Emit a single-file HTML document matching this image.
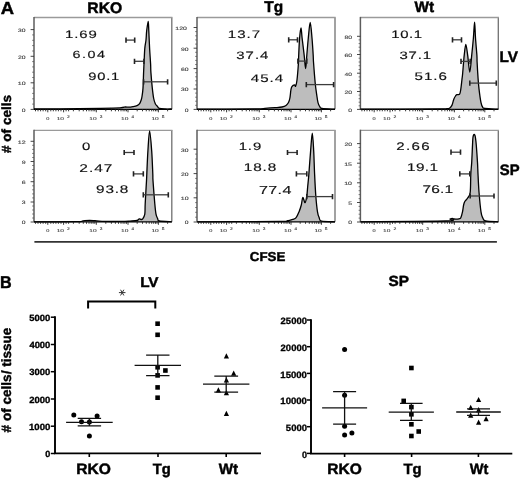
<!DOCTYPE html>
<html><head><meta charset="utf-8"><style>
html,body{margin:0;padding:0;background:#fff;}
body{width:520px;height:479px;overflow:hidden;}
svg{display:block;font-family:"Liberation Sans",sans-serif;filter:grayscale(1);text-rendering:geometricPrecision;}
</style></head><body>
<svg width="520" height="479" viewBox="0 0 520 479">
<rect width="520" height="479" fill="#fff"/>
<path d="M171.8 109.3 V17.5" fill="none" stroke="#707070" stroke-width="1.3"/>
<path d="M34.0 17.5 H172.45000000000002" fill="none" stroke="#9a9a9a" stroke-width="1.3"/>
<line x1="34.0" y1="16.9" x2="34.0" y2="109.3" stroke="#5c5c5c" stroke-width="1.5"/>
<path d="M171.8 221.8 V130.3" fill="none" stroke="#707070" stroke-width="1.3"/>
<path d="M34.0 130.3 H172.45000000000002" fill="none" stroke="#9a9a9a" stroke-width="1.3"/>
<line x1="34.0" y1="129.70000000000002" x2="34.0" y2="221.8" stroke="#5c5c5c" stroke-width="1.5"/>
<path d="M335.0 109.3 V17.5" fill="none" stroke="#707070" stroke-width="1.3"/>
<path d="M197.0 17.5 H335.65" fill="none" stroke="#9a9a9a" stroke-width="1.3"/>
<line x1="197.0" y1="16.9" x2="197.0" y2="109.3" stroke="#5c5c5c" stroke-width="1.5"/>
<path d="M335.0 221.8 V130.3" fill="none" stroke="#707070" stroke-width="1.3"/>
<path d="M197.0 130.3 H335.65" fill="none" stroke="#9a9a9a" stroke-width="1.3"/>
<line x1="197.0" y1="129.70000000000002" x2="197.0" y2="221.8" stroke="#5c5c5c" stroke-width="1.5"/>
<path d="M498.3 109.3 V17.5" fill="none" stroke="#707070" stroke-width="1.3"/>
<path d="M360.4 17.5 H498.95" fill="none" stroke="#9a9a9a" stroke-width="1.3"/>
<line x1="360.4" y1="16.9" x2="360.4" y2="109.3" stroke="#5c5c5c" stroke-width="1.5"/>
<path d="M498.3 221.8 V130.3" fill="none" stroke="#707070" stroke-width="1.3"/>
<path d="M360.4 130.3 H498.95" fill="none" stroke="#9a9a9a" stroke-width="1.3"/>
<line x1="360.4" y1="129.70000000000002" x2="360.4" y2="221.8" stroke="#5c5c5c" stroke-width="1.5"/>
<path d="M34.00 109.00 C38.33 108.98 49.00 109.02 60.00 108.90 C71.00 108.78 90.00 108.48 100.00 108.30 C110.00 108.12 115.75 108.02 120.00 107.80 C124.25 107.58 124.17 107.10 125.50 107.00 C126.83 106.90 126.75 107.27 128.00 107.20 C129.25 107.13 131.50 106.87 133.00 106.60 C134.50 106.33 135.90 106.10 137.00 105.60 C138.10 105.10 138.90 104.53 139.60 103.60 C140.30 102.67 140.80 101.18 141.20 100.00 C141.60 98.82 141.70 98.48 142.00 96.50 C142.30 94.52 142.73 92.12 143.00 88.10 C143.27 84.08 143.42 76.75 143.60 72.40 C143.78 68.05 143.90 66.00 144.10 62.00 C144.30 58.00 144.48 52.07 144.80 48.40 C145.12 44.73 145.68 42.95 146.00 40.00 C146.32 37.05 146.33 33.78 146.70 30.70 C147.07 27.62 147.85 21.50 148.20 21.50 C148.55 21.50 148.57 26.22 148.80 30.70 C149.03 35.18 149.30 42.85 149.60 48.40 C149.90 53.95 150.38 60.00 150.60 64.00 C150.82 68.00 150.62 68.38 150.90 72.40 C151.18 76.42 151.83 83.75 152.30 88.10 C152.77 92.45 153.20 95.88 153.70 98.50 C154.20 101.12 154.68 102.48 155.30 103.80 C155.92 105.12 156.72 105.63 157.40 106.40 C158.08 107.17 158.13 107.97 159.40 108.40 C160.67 108.83 162.93 108.90 165.00 109.00 C167.07 109.10 170.67 109.00 171.80 109.00 L171.8 109.3 L34 109.3 Z" fill="#bdbdbd" stroke="none"/>
<path d="M34.00 109.00 C38.33 108.98 49.00 109.02 60.00 108.90 C71.00 108.78 90.00 108.48 100.00 108.30 C110.00 108.12 115.75 108.02 120.00 107.80 C124.25 107.58 124.17 107.10 125.50 107.00 C126.83 106.90 126.75 107.27 128.00 107.20 C129.25 107.13 131.50 106.87 133.00 106.60 C134.50 106.33 135.90 106.10 137.00 105.60 C138.10 105.10 138.90 104.53 139.60 103.60 C140.30 102.67 140.80 101.18 141.20 100.00 C141.60 98.82 141.70 98.48 142.00 96.50 C142.30 94.52 142.73 92.12 143.00 88.10 C143.27 84.08 143.42 76.75 143.60 72.40 C143.78 68.05 143.90 66.00 144.10 62.00 C144.30 58.00 144.48 52.07 144.80 48.40 C145.12 44.73 145.68 42.95 146.00 40.00 C146.32 37.05 146.33 33.78 146.70 30.70 C147.07 27.62 147.85 21.50 148.20 21.50 C148.55 21.50 148.57 26.22 148.80 30.70 C149.03 35.18 149.30 42.85 149.60 48.40 C149.90 53.95 150.38 60.00 150.60 64.00 C150.82 68.00 150.62 68.38 150.90 72.40 C151.18 76.42 151.83 83.75 152.30 88.10 C152.77 92.45 153.20 95.88 153.70 98.50 C154.20 101.12 154.68 102.48 155.30 103.80 C155.92 105.12 156.72 105.63 157.40 106.40 C158.08 107.17 158.13 107.97 159.40 108.40 C160.67 108.83 162.93 108.90 165.00 109.00 C167.07 109.10 170.67 109.00 171.80 109.00" fill="none" stroke="#000" stroke-width="1.3" stroke-linejoin="round"/>
<line x1="34.0" y1="109.3" x2="171.8" y2="109.3" stroke="#000" stroke-width="1.2"/>
<path d="M197.00 109.20 C206.67 109.15 243.67 109.03 255.00 108.90 C266.33 108.77 261.67 108.60 265.00 108.40 C268.33 108.20 272.17 107.93 275.00 107.70 C277.83 107.47 280.17 107.37 282.00 107.00 C283.83 106.63 284.92 106.25 286.00 105.50 C287.08 104.75 287.85 103.75 288.50 102.50 C289.15 101.25 289.50 100.08 289.90 98.00 C290.30 95.92 290.57 91.90 290.90 90.00 C291.23 88.10 291.28 87.45 291.90 86.60 C292.52 85.75 293.98 84.97 294.60 84.90 C295.22 84.83 295.20 87.02 295.60 86.20 C296.00 85.38 296.52 83.98 297.00 80.00 C297.48 76.02 298.22 66.40 298.50 62.30 C298.78 58.20 298.52 59.45 298.70 55.40 C298.88 51.35 299.22 42.58 299.60 38.00 C299.98 33.42 300.58 27.90 301.00 27.90 C301.42 27.90 301.57 33.42 302.10 38.00 C302.63 42.58 303.62 50.28 304.20 55.40 C304.78 60.52 305.17 68.70 305.60 68.70 C306.03 68.70 306.35 60.52 306.80 55.40 C307.25 50.28 307.73 43.48 308.30 38.00 C308.87 32.52 309.58 22.50 310.20 22.50 C310.82 22.50 311.50 32.52 312.00 38.00 C312.50 43.48 312.95 51.40 313.20 55.40 C313.45 59.40 313.17 57.40 313.50 62.00 C313.83 66.60 314.67 77.57 315.20 83.00 C315.73 88.43 316.23 91.32 316.70 94.60 C317.17 97.88 317.48 100.68 318.00 102.70 C318.52 104.72 319.13 105.73 319.80 106.70 C320.47 107.67 319.47 108.08 322.00 108.50 C324.53 108.92 332.83 109.08 335.00 109.20 L335 109.3 L197.0 109.3 Z" fill="#bdbdbd" stroke="none"/>
<path d="M197.00 109.20 C206.67 109.15 243.67 109.03 255.00 108.90 C266.33 108.77 261.67 108.60 265.00 108.40 C268.33 108.20 272.17 107.93 275.00 107.70 C277.83 107.47 280.17 107.37 282.00 107.00 C283.83 106.63 284.92 106.25 286.00 105.50 C287.08 104.75 287.85 103.75 288.50 102.50 C289.15 101.25 289.50 100.08 289.90 98.00 C290.30 95.92 290.57 91.90 290.90 90.00 C291.23 88.10 291.28 87.45 291.90 86.60 C292.52 85.75 293.98 84.97 294.60 84.90 C295.22 84.83 295.20 87.02 295.60 86.20 C296.00 85.38 296.52 83.98 297.00 80.00 C297.48 76.02 298.22 66.40 298.50 62.30 C298.78 58.20 298.52 59.45 298.70 55.40 C298.88 51.35 299.22 42.58 299.60 38.00 C299.98 33.42 300.58 27.90 301.00 27.90 C301.42 27.90 301.57 33.42 302.10 38.00 C302.63 42.58 303.62 50.28 304.20 55.40 C304.78 60.52 305.17 68.70 305.60 68.70 C306.03 68.70 306.35 60.52 306.80 55.40 C307.25 50.28 307.73 43.48 308.30 38.00 C308.87 32.52 309.58 22.50 310.20 22.50 C310.82 22.50 311.50 32.52 312.00 38.00 C312.50 43.48 312.95 51.40 313.20 55.40 C313.45 59.40 313.17 57.40 313.50 62.00 C313.83 66.60 314.67 77.57 315.20 83.00 C315.73 88.43 316.23 91.32 316.70 94.60 C317.17 97.88 317.48 100.68 318.00 102.70 C318.52 104.72 319.13 105.73 319.80 106.70 C320.47 107.67 319.47 108.08 322.00 108.50 C324.53 108.92 332.83 109.08 335.00 109.20" fill="none" stroke="#000" stroke-width="1.3" stroke-linejoin="round"/>
<line x1="197.0" y1="109.3" x2="335.0" y2="109.3" stroke="#000" stroke-width="1.2"/>
<path d="M360.40 109.20 C373.67 109.15 425.73 108.97 440.00 108.90 C454.27 108.83 444.42 108.92 446.00 108.80 C447.58 108.68 448.52 108.77 449.50 108.20 C450.48 107.63 451.18 106.90 451.90 105.40 C452.62 103.90 453.20 100.77 453.80 99.20 C454.40 97.63 454.98 96.77 455.50 96.00 C456.02 95.23 456.22 94.90 456.90 94.60 C457.58 94.30 458.95 95.10 459.60 94.20 C460.25 93.30 460.42 91.57 460.80 89.20 C461.18 86.83 461.60 82.53 461.90 80.00 C462.20 77.47 462.32 77.00 462.60 74.00 C462.88 71.00 463.33 65.10 463.60 62.00 C463.87 58.90 463.83 58.33 464.20 55.40 C464.57 52.47 465.22 44.40 465.80 44.40 C466.38 44.40 467.03 50.78 467.70 55.40 C468.37 60.02 469.13 72.10 469.80 72.10 C470.47 72.10 471.10 61.08 471.70 55.40 C472.30 49.72 472.92 43.53 473.40 38.00 C473.88 32.47 474.25 22.20 474.60 22.20 C474.95 22.20 475.12 32.47 475.50 38.00 C475.88 43.53 476.63 51.40 476.90 55.40 C477.17 59.40 476.92 58.35 477.10 62.00 C477.28 65.65 477.68 72.83 478.00 77.30 C478.32 81.77 478.50 84.57 479.00 88.80 C479.50 93.03 480.38 99.62 481.00 102.70 C481.62 105.78 482.03 106.33 482.70 107.30 C483.37 108.27 482.40 108.18 485.00 108.50 C487.60 108.82 496.08 109.08 498.30 109.20 L498.3 109.3 L360.4 109.3 Z" fill="#bdbdbd" stroke="none"/>
<path d="M360.40 109.20 C373.67 109.15 425.73 108.97 440.00 108.90 C454.27 108.83 444.42 108.92 446.00 108.80 C447.58 108.68 448.52 108.77 449.50 108.20 C450.48 107.63 451.18 106.90 451.90 105.40 C452.62 103.90 453.20 100.77 453.80 99.20 C454.40 97.63 454.98 96.77 455.50 96.00 C456.02 95.23 456.22 94.90 456.90 94.60 C457.58 94.30 458.95 95.10 459.60 94.20 C460.25 93.30 460.42 91.57 460.80 89.20 C461.18 86.83 461.60 82.53 461.90 80.00 C462.20 77.47 462.32 77.00 462.60 74.00 C462.88 71.00 463.33 65.10 463.60 62.00 C463.87 58.90 463.83 58.33 464.20 55.40 C464.57 52.47 465.22 44.40 465.80 44.40 C466.38 44.40 467.03 50.78 467.70 55.40 C468.37 60.02 469.13 72.10 469.80 72.10 C470.47 72.10 471.10 61.08 471.70 55.40 C472.30 49.72 472.92 43.53 473.40 38.00 C473.88 32.47 474.25 22.20 474.60 22.20 C474.95 22.20 475.12 32.47 475.50 38.00 C475.88 43.53 476.63 51.40 476.90 55.40 C477.17 59.40 476.92 58.35 477.10 62.00 C477.28 65.65 477.68 72.83 478.00 77.30 C478.32 81.77 478.50 84.57 479.00 88.80 C479.50 93.03 480.38 99.62 481.00 102.70 C481.62 105.78 482.03 106.33 482.70 107.30 C483.37 108.27 482.40 108.18 485.00 108.50 C487.60 108.82 496.08 109.08 498.30 109.20" fill="none" stroke="#000" stroke-width="1.3" stroke-linejoin="round"/>
<line x1="360.4" y1="109.3" x2="498.3" y2="109.3" stroke="#000" stroke-width="1.2"/>
<path d="M34.00 221.80 C41.00 221.78 67.83 221.85 76.00 221.70 C84.17 221.55 80.75 221.13 83.00 220.90 C85.25 220.67 87.50 220.33 89.50 220.30 C91.50 220.27 92.92 220.52 95.00 220.70 C97.08 220.88 97.00 221.28 102.00 221.40 C107.00 221.52 120.33 221.45 125.00 221.40 C129.67 221.35 128.00 221.25 130.00 221.10 C132.00 220.95 135.47 220.88 137.00 220.50 C138.53 220.12 138.53 218.97 139.20 218.80 C139.87 218.63 140.42 219.50 141.00 219.50 C141.58 219.50 142.07 219.68 142.70 218.80 C143.33 217.92 144.38 216.70 144.80 214.20 C145.22 211.70 144.92 209.37 145.20 203.80 C145.48 198.23 146.23 185.77 146.50 180.80 C146.77 175.83 146.57 178.97 146.80 174.00 C147.03 169.03 147.43 158.17 147.90 151.00 C148.37 143.83 148.97 131.00 149.60 131.00 C150.23 131.00 151.17 143.83 151.70 151.00 C152.23 158.17 152.58 169.03 152.80 174.00 C153.02 178.97 152.67 175.83 153.00 180.80 C153.33 185.77 154.30 198.23 154.80 203.80 C155.30 209.37 155.52 211.70 156.00 214.20 C156.48 216.70 157.13 217.67 157.70 218.80 C158.27 219.93 157.05 220.50 159.40 221.00 C161.75 221.50 169.73 221.67 171.80 221.80 L171.8 221.8 L34 221.8 Z" fill="#bdbdbd" stroke="none"/>
<path d="M34.00 221.80 C41.00 221.78 67.83 221.85 76.00 221.70 C84.17 221.55 80.75 221.13 83.00 220.90 C85.25 220.67 87.50 220.33 89.50 220.30 C91.50 220.27 92.92 220.52 95.00 220.70 C97.08 220.88 97.00 221.28 102.00 221.40 C107.00 221.52 120.33 221.45 125.00 221.40 C129.67 221.35 128.00 221.25 130.00 221.10 C132.00 220.95 135.47 220.88 137.00 220.50 C138.53 220.12 138.53 218.97 139.20 218.80 C139.87 218.63 140.42 219.50 141.00 219.50 C141.58 219.50 142.07 219.68 142.70 218.80 C143.33 217.92 144.38 216.70 144.80 214.20 C145.22 211.70 144.92 209.37 145.20 203.80 C145.48 198.23 146.23 185.77 146.50 180.80 C146.77 175.83 146.57 178.97 146.80 174.00 C147.03 169.03 147.43 158.17 147.90 151.00 C148.37 143.83 148.97 131.00 149.60 131.00 C150.23 131.00 151.17 143.83 151.70 151.00 C152.23 158.17 152.58 169.03 152.80 174.00 C153.02 178.97 152.67 175.83 153.00 180.80 C153.33 185.77 154.30 198.23 154.80 203.80 C155.30 209.37 155.52 211.70 156.00 214.20 C156.48 216.70 157.13 217.67 157.70 218.80 C158.27 219.93 157.05 220.50 159.40 221.00 C161.75 221.50 169.73 221.67 171.80 221.80" fill="none" stroke="#000" stroke-width="1.3" stroke-linejoin="round"/>
<line x1="34.0" y1="221.8" x2="171.8" y2="221.8" stroke="#000" stroke-width="1.2"/>
<path d="M197.30 221.80 C211.08 221.75 265.05 221.63 280.00 221.50 C294.95 221.37 284.88 221.35 287.00 221.00 C289.12 220.65 291.18 219.95 292.70 219.40 C294.22 218.85 295.05 218.95 296.10 217.70 C297.15 216.45 298.13 214.02 299.00 211.90 C299.87 209.78 300.67 207.40 301.30 205.00 C301.93 202.60 302.17 197.88 302.80 197.50 C303.43 197.12 304.43 202.98 305.10 202.70 C305.77 202.42 306.37 198.50 306.80 195.80 C307.23 193.10 307.37 189.97 307.70 186.50 C308.03 183.03 308.32 180.92 308.80 175.00 C309.28 169.08 310.02 157.97 310.60 151.00 C311.18 144.03 311.78 133.20 312.30 133.20 C312.82 133.20 313.32 144.20 313.70 151.00 C314.08 157.80 314.25 166.53 314.60 174.00 C314.95 181.47 315.32 189.48 315.80 195.80 C316.28 202.12 316.93 208.25 317.50 211.90 C318.07 215.55 318.53 216.15 319.20 217.70 C319.87 219.25 318.87 220.52 321.50 221.20 C324.13 221.88 332.75 221.70 335.00 221.80 L335 221.8 L197.3 221.8 Z" fill="#bdbdbd" stroke="none"/>
<path d="M197.30 221.80 C211.08 221.75 265.05 221.63 280.00 221.50 C294.95 221.37 284.88 221.35 287.00 221.00 C289.12 220.65 291.18 219.95 292.70 219.40 C294.22 218.85 295.05 218.95 296.10 217.70 C297.15 216.45 298.13 214.02 299.00 211.90 C299.87 209.78 300.67 207.40 301.30 205.00 C301.93 202.60 302.17 197.88 302.80 197.50 C303.43 197.12 304.43 202.98 305.10 202.70 C305.77 202.42 306.37 198.50 306.80 195.80 C307.23 193.10 307.37 189.97 307.70 186.50 C308.03 183.03 308.32 180.92 308.80 175.00 C309.28 169.08 310.02 157.97 310.60 151.00 C311.18 144.03 311.78 133.20 312.30 133.20 C312.82 133.20 313.32 144.20 313.70 151.00 C314.08 157.80 314.25 166.53 314.60 174.00 C314.95 181.47 315.32 189.48 315.80 195.80 C316.28 202.12 316.93 208.25 317.50 211.90 C318.07 215.55 318.53 216.15 319.20 217.70 C319.87 219.25 318.87 220.52 321.50 221.20 C324.13 221.88 332.75 221.70 335.00 221.80" fill="none" stroke="#000" stroke-width="1.3" stroke-linejoin="round"/>
<line x1="197.0" y1="221.8" x2="335.0" y2="221.8" stroke="#000" stroke-width="1.2"/>
<path d="M360.50 221.80 C374.72 221.67 430.88 221.47 445.80 221.00 C460.72 220.53 448.95 219.45 450.00 219.00 C451.05 218.55 451.43 218.30 452.10 218.30 C452.77 218.30 452.85 218.92 454.00 219.00 C455.15 219.08 457.87 219.02 459.00 218.80 C460.13 218.58 460.22 218.85 460.80 217.70 C461.38 216.55 462.03 214.02 462.50 211.90 C462.97 209.78 463.22 206.73 463.60 205.00 C463.98 203.27 464.12 202.67 464.80 201.50 C465.48 200.33 466.80 199.53 467.70 198.00 C468.60 196.47 469.68 196.30 470.20 192.30 C470.72 188.30 470.55 178.95 470.80 174.00 C471.05 169.05 471.42 167.38 471.70 162.60 C471.98 157.82 472.30 149.40 472.50 145.30 C472.70 141.20 472.73 139.68 472.90 138.00 C473.07 136.32 473.28 135.80 473.50 135.20 C473.72 134.60 473.97 134.40 474.20 134.40 C474.43 134.40 474.68 134.60 474.90 135.20 C475.12 135.80 475.27 136.32 475.50 138.00 C475.73 139.68 475.97 141.20 476.30 145.30 C476.63 149.40 477.22 157.82 477.50 162.60 C477.78 167.38 477.75 169.10 478.00 174.00 C478.25 178.90 478.50 185.68 479.00 192.00 C479.50 198.32 480.38 207.62 481.00 211.90 C481.62 216.18 481.93 216.18 482.70 217.70 C483.47 219.22 483.00 220.32 485.60 221.00 C488.20 221.68 496.18 221.67 498.30 221.80 L498.3 221.8 L360.5 221.8 Z" fill="#bdbdbd" stroke="none"/>
<path d="M360.50 221.80 C374.72 221.67 430.88 221.47 445.80 221.00 C460.72 220.53 448.95 219.45 450.00 219.00 C451.05 218.55 451.43 218.30 452.10 218.30 C452.77 218.30 452.85 218.92 454.00 219.00 C455.15 219.08 457.87 219.02 459.00 218.80 C460.13 218.58 460.22 218.85 460.80 217.70 C461.38 216.55 462.03 214.02 462.50 211.90 C462.97 209.78 463.22 206.73 463.60 205.00 C463.98 203.27 464.12 202.67 464.80 201.50 C465.48 200.33 466.80 199.53 467.70 198.00 C468.60 196.47 469.68 196.30 470.20 192.30 C470.72 188.30 470.55 178.95 470.80 174.00 C471.05 169.05 471.42 167.38 471.70 162.60 C471.98 157.82 472.30 149.40 472.50 145.30 C472.70 141.20 472.73 139.68 472.90 138.00 C473.07 136.32 473.28 135.80 473.50 135.20 C473.72 134.60 473.97 134.40 474.20 134.40 C474.43 134.40 474.68 134.60 474.90 135.20 C475.12 135.80 475.27 136.32 475.50 138.00 C475.73 139.68 475.97 141.20 476.30 145.30 C476.63 149.40 477.22 157.82 477.50 162.60 C477.78 167.38 477.75 169.10 478.00 174.00 C478.25 178.90 478.50 185.68 479.00 192.00 C479.50 198.32 480.38 207.62 481.00 211.90 C481.62 216.18 481.93 216.18 482.70 217.70 C483.47 219.22 483.00 220.32 485.60 221.00 C488.20 221.68 496.18 221.67 498.30 221.80" fill="none" stroke="#000" stroke-width="1.3" stroke-linejoin="round"/>
<line x1="360.4" y1="221.8" x2="498.3" y2="221.8" stroke="#000" stroke-width="1.2"/>
<path d="M126 40.1 H134.7" stroke="#3c3c3c" stroke-width="1.3"/>
<path d="M126 37.5 V42.7 M134.7 37.5 V42.7" stroke="#222" stroke-width="1.6"/>
<path d="M134.5 61.3 H143.9" stroke="#3c3c3c" stroke-width="1.3"/>
<path d="M134.5 58.699999999999996 V63.9 M143.9 58.699999999999996 V63.9" stroke="#222" stroke-width="1.6"/>
<path d="M143.6 81.8 H167.6" stroke="#3c3c3c" stroke-width="1.3"/>
<path d="M143.6 79.2 V84.39999999999999 M167.6 79.2 V84.39999999999999" stroke="#222" stroke-width="1.6"/>
<path d="M288.7 39.8 H297.5" stroke="#3c3c3c" stroke-width="1.3"/>
<path d="M288.7 37.199999999999996 V42.4 M297.5 37.199999999999996 V42.4" stroke="#222" stroke-width="1.6"/>
<path d="M297.9 61.1 H306.8" stroke="#3c3c3c" stroke-width="1.3"/>
<path d="M297.9 58.5 V63.7 M306.8 58.5 V63.7" stroke="#222" stroke-width="1.6"/>
<path d="M306.3 84.6 H333.6" stroke="#3c3c3c" stroke-width="1.3"/>
<path d="M306.3 82.0 V87.19999999999999 M333.6 82.0 V87.19999999999999" stroke="#222" stroke-width="1.6"/>
<path d="M452.5 39.8 H461.5" stroke="#3c3c3c" stroke-width="1.3"/>
<path d="M452.5 37.199999999999996 V42.4 M461.5 37.199999999999996 V42.4" stroke="#222" stroke-width="1.6"/>
<path d="M461 61.4 H470.2" stroke="#3c3c3c" stroke-width="1.3"/>
<path d="M461 58.8 V64.0 M470.2 58.8 V64.0" stroke="#222" stroke-width="1.6"/>
<path d="M469.8 83.1 H496.3" stroke="#3c3c3c" stroke-width="1.3"/>
<path d="M469.8 80.5 V85.69999999999999 M496.3 80.5 V85.69999999999999" stroke="#222" stroke-width="1.6"/>
<path d="M124.2 152.5 H134" stroke="#3c3c3c" stroke-width="1.3"/>
<path d="M124.2 149.9 V155.1 M134 149.9 V155.1" stroke="#222" stroke-width="1.6"/>
<path d="M133.5 173.9 H143.3" stroke="#3c3c3c" stroke-width="1.3"/>
<path d="M133.5 171.3 V176.5 M143.3 171.3 V176.5" stroke="#222" stroke-width="1.6"/>
<path d="M143.3 194.8 H168.3" stroke="#3c3c3c" stroke-width="1.3"/>
<path d="M143.3 192.20000000000002 V197.4 M168.3 192.20000000000002 V197.4" stroke="#222" stroke-width="1.6"/>
<path d="M287.5 152.5 H297.1" stroke="#3c3c3c" stroke-width="1.3"/>
<path d="M287.5 149.9 V155.1 M297.1 149.9 V155.1" stroke="#222" stroke-width="1.6"/>
<path d="M296.4 173.9 H306.8" stroke="#3c3c3c" stroke-width="1.3"/>
<path d="M296.4 171.3 V176.5 M306.8 171.3 V176.5" stroke="#222" stroke-width="1.6"/>
<path d="M306.8 196.6 H332.5" stroke="#3c3c3c" stroke-width="1.3"/>
<path d="M306.8 194.0 V199.2 M332.5 194.0 V199.2" stroke="#222" stroke-width="1.6"/>
<path d="M451 152.2 H460.5" stroke="#3c3c3c" stroke-width="1.3"/>
<path d="M451 149.6 V154.79999999999998 M460.5 149.6 V154.79999999999998" stroke="#222" stroke-width="1.6"/>
<path d="M459.8 173.9 H469.8" stroke="#3c3c3c" stroke-width="1.3"/>
<path d="M459.8 171.3 V176.5 M469.8 171.3 V176.5" stroke="#222" stroke-width="1.6"/>
<path d="M470.2 196 H494" stroke="#3c3c3c" stroke-width="1.3"/>
<path d="M470.2 193.4 V198.6 M494 193.4 V198.6" stroke="#222" stroke-width="1.6"/>
<text transform="scale(1.38 1)" x="47.06" y="37.72" font-size="10.80" font-weight="normal" letter-spacing="0.69" fill="#111" stroke="#111" stroke-width="0.15">1.69</text>
<text transform="scale(1.38 1)" x="52.64" y="58.42" font-size="10.38" font-weight="normal" letter-spacing="1.09" fill="#111" stroke="#111" stroke-width="0.15">6.04</text>
<text transform="scale(1.38 1)" x="63.97" y="79.62" font-size="10.66" font-weight="normal" letter-spacing="0.56" fill="#111" stroke="#111" stroke-width="0.15">90.1</text>
<text transform="scale(1.38 1)" x="165.02" y="37.72" font-size="10.95" font-weight="normal" letter-spacing="0.74" fill="#111" stroke="#111" stroke-width="0.15">13.7</text>
<text transform="scale(1.38 1)" x="171.24" y="58.72" font-size="10.80" font-weight="normal" letter-spacing="0.73" fill="#111" stroke="#111" stroke-width="0.15">37.4</text>
<text transform="scale(1.38 1)" x="181.69" y="82.12" font-size="10.96" font-weight="normal" letter-spacing="0.75" fill="#111" stroke="#111" stroke-width="0.15">45.4</text>
<text transform="scale(1.38 1)" x="283.51" y="37.72" font-size="10.80" font-weight="normal" letter-spacing="0.46" fill="#111" stroke="#111" stroke-width="0.15">10.1</text>
<text transform="scale(1.38 1)" x="289.43" y="58.72" font-size="10.80" font-weight="normal" letter-spacing="0.61" fill="#111" stroke="#111" stroke-width="0.15">37.1</text>
<text transform="scale(1.38 1)" x="300.34" y="80.42" font-size="10.95" font-weight="normal" letter-spacing="0.75" fill="#111" stroke="#111" stroke-width="0.15">51.6</text>
<text transform="scale(1.38 1)" x="59.41" y="149.82" font-size="10.80" font-weight="normal" letter-spacing="0.00" fill="#111" stroke="#111" stroke-width="0.15">0</text>
<text transform="scale(1.38 1)" x="57.53" y="171.53" font-size="11.24" font-weight="normal" letter-spacing="0.68" fill="#111" stroke="#111" stroke-width="0.15">2.47</text>
<text transform="scale(1.38 1)" x="69.61" y="192.62" font-size="11.09" font-weight="normal" letter-spacing="0.59" fill="#111" stroke="#111" stroke-width="0.15">93.8</text>
<text transform="scale(1.38 1)" x="172.93" y="149.82" font-size="10.80" font-weight="normal" letter-spacing="0.68" fill="#111" stroke="#111" stroke-width="0.15">1.9</text>
<text transform="scale(1.38 1)" x="176.67" y="171.42" font-size="11.09" font-weight="normal" letter-spacing="0.63" fill="#111" stroke="#111" stroke-width="0.15">18.8</text>
<text transform="scale(1.38 1)" x="187.72" y="194.12" font-size="11.70" font-weight="normal" letter-spacing="0.22" fill="#111" stroke="#111" stroke-width="0.15">77.4</text>
<text transform="scale(1.38 1)" x="287.18" y="149.82" font-size="10.95" font-weight="normal" letter-spacing="0.98" fill="#111" stroke="#111" stroke-width="0.15">2.66</text>
<text transform="scale(1.38 1)" x="294.93" y="171.42" font-size="11.09" font-weight="normal" letter-spacing="0.29" fill="#111" stroke="#111" stroke-width="0.15">19.1</text>
<text transform="scale(1.38 1)" x="306.22" y="193.42" font-size="11.23" font-weight="normal" letter-spacing="0.11" fill="#111" stroke="#111" stroke-width="0.15">76.1</text>
<text x="87.38" y="12.53" font-size="15.32" font-weight="bold" textLength="34.86" lengthAdjust="spacingAndGlyphs" fill="#000" stroke="#000" stroke-width="0.45">RKO</text>
<text x="264.25" y="12.29" font-size="15.50" font-weight="bold" textLength="18.86" lengthAdjust="spacingAndGlyphs" fill="#000" stroke="#000" stroke-width="0.45">Tg</text>
<text x="414.41" y="12.44" font-size="15.43" font-weight="bold" textLength="19.65" lengthAdjust="spacingAndGlyphs" fill="#000" stroke="#000" stroke-width="0.45">Wt</text>
<text x="499.46" y="61.98" font-size="15.19" font-weight="bold" textLength="18.41" lengthAdjust="spacingAndGlyphs" fill="#000" stroke="#000" stroke-width="0.45">LV</text>
<text x="499.80" y="175.23" font-size="15.18" font-weight="bold" textLength="19.78" lengthAdjust="spacingAndGlyphs" fill="#000" stroke="#000" stroke-width="0.45">SP</text>
<text x="0.67" y="13.78" font-size="17.51" font-weight="bold" textLength="13.29" lengthAdjust="spacingAndGlyphs" fill="#000" stroke="#000" stroke-width="0.45">A</text>
<text x="249.88" y="260.65" font-size="12.92" font-weight="bold" textLength="35.41" lengthAdjust="spacingAndGlyphs" fill="#000" stroke="#000" stroke-width="0.45">CFSE</text>
<text transform="translate(11.0 152.7) rotate(-90)" x="-0.23" y="0" font-size="13.3" font-weight="bold" textLength="57.89" lengthAdjust="spacingAndGlyphs" stroke="#000" stroke-width="0.4"># of cells</text>
<line x1="34.4" y1="241.8" x2="496.9" y2="241.8" stroke="#333" stroke-width="1.8"/>
<text x="18.10" y="31.99" font-size="4.77" font-weight="normal" textLength="7.50" lengthAdjust="spacingAndGlyphs" fill="#444" stroke="#444" stroke-width="0.12">30</text>
<line x1="30.6" y1="29.6" x2="34.0" y2="29.6" stroke="#333" stroke-width="0.9"/>
<text x="18.02" y="58.69" font-size="4.77" font-weight="normal" textLength="7.59" lengthAdjust="spacingAndGlyphs" fill="#444" stroke="#444" stroke-width="0.12">20</text>
<line x1="30.6" y1="56.3" x2="34.0" y2="56.3" stroke="#333" stroke-width="0.9"/>
<text x="17.83" y="85.19" font-size="4.77" font-weight="normal" textLength="7.79" lengthAdjust="spacingAndGlyphs" fill="#444" stroke="#444" stroke-width="0.12">10</text>
<line x1="30.6" y1="82.8" x2="34.0" y2="82.8" stroke="#333" stroke-width="0.9"/>
<text x="21.85" y="111.79" font-size="4.77" font-weight="normal" textLength="3.76" lengthAdjust="spacingAndGlyphs" fill="#444" stroke="#444" stroke-width="0.12">0</text>
<line x1="30.6" y1="109.4" x2="34.0" y2="109.4" stroke="#333" stroke-width="0.9"/>
<line x1="32.2" y1="34.9" x2="34.0" y2="34.9" stroke="#555" stroke-width="0.8"/>
<line x1="32.2" y1="40.3" x2="34.0" y2="40.3" stroke="#555" stroke-width="0.8"/>
<line x1="32.2" y1="45.6" x2="34.0" y2="45.6" stroke="#555" stroke-width="0.8"/>
<line x1="32.2" y1="51.0" x2="34.0" y2="51.0" stroke="#555" stroke-width="0.8"/>
<line x1="32.2" y1="61.6" x2="34.0" y2="61.6" stroke="#555" stroke-width="0.8"/>
<line x1="32.2" y1="66.9" x2="34.0" y2="66.9" stroke="#555" stroke-width="0.8"/>
<line x1="32.2" y1="72.2" x2="34.0" y2="72.2" stroke="#555" stroke-width="0.8"/>
<line x1="32.2" y1="77.5" x2="34.0" y2="77.5" stroke="#555" stroke-width="0.8"/>
<line x1="32.2" y1="88.1" x2="34.0" y2="88.1" stroke="#555" stroke-width="0.8"/>
<line x1="32.2" y1="93.4" x2="34.0" y2="93.4" stroke="#555" stroke-width="0.8"/>
<line x1="32.2" y1="98.8" x2="34.0" y2="98.8" stroke="#555" stroke-width="0.8"/>
<line x1="32.2" y1="104.1" x2="34.0" y2="104.1" stroke="#555" stroke-width="0.8"/>
<text x="175.38" y="29.89" font-size="4.77" font-weight="normal" textLength="11.53" lengthAdjust="spacingAndGlyphs" fill="#444" stroke="#444" stroke-width="0.12">120</text>
<line x1="193.6" y1="27.5" x2="197.0" y2="27.5" stroke="#333" stroke-width="0.9"/>
<text x="181.04" y="50.59" font-size="4.77" font-weight="normal" textLength="7.56" lengthAdjust="spacingAndGlyphs" fill="#444" stroke="#444" stroke-width="0.12">90</text>
<line x1="193.6" y1="48.2" x2="197.0" y2="48.2" stroke="#333" stroke-width="0.9"/>
<text x="181.01" y="70.99" font-size="4.77" font-weight="normal" textLength="7.59" lengthAdjust="spacingAndGlyphs" fill="#444" stroke="#444" stroke-width="0.12">60</text>
<line x1="193.6" y1="68.6" x2="197.0" y2="68.6" stroke="#333" stroke-width="0.9"/>
<text x="181.10" y="91.39" font-size="4.77" font-weight="normal" textLength="7.50" lengthAdjust="spacingAndGlyphs" fill="#444" stroke="#444" stroke-width="0.12">30</text>
<line x1="193.6" y1="89.0" x2="197.0" y2="89.0" stroke="#333" stroke-width="0.9"/>
<text x="184.85" y="111.79" font-size="4.77" font-weight="normal" textLength="3.76" lengthAdjust="spacingAndGlyphs" fill="#444" stroke="#444" stroke-width="0.12">0</text>
<line x1="193.6" y1="109.4" x2="197.0" y2="109.4" stroke="#333" stroke-width="0.9"/>
<line x1="195.2" y1="31.6" x2="197.0" y2="31.6" stroke="#555" stroke-width="0.8"/>
<line x1="195.2" y1="35.8" x2="197.0" y2="35.8" stroke="#555" stroke-width="0.8"/>
<line x1="195.2" y1="39.9" x2="197.0" y2="39.9" stroke="#555" stroke-width="0.8"/>
<line x1="195.2" y1="44.1" x2="197.0" y2="44.1" stroke="#555" stroke-width="0.8"/>
<line x1="195.2" y1="52.3" x2="197.0" y2="52.3" stroke="#555" stroke-width="0.8"/>
<line x1="195.2" y1="56.4" x2="197.0" y2="56.4" stroke="#555" stroke-width="0.8"/>
<line x1="195.2" y1="60.4" x2="197.0" y2="60.4" stroke="#555" stroke-width="0.8"/>
<line x1="195.2" y1="64.5" x2="197.0" y2="64.5" stroke="#555" stroke-width="0.8"/>
<line x1="195.2" y1="72.7" x2="197.0" y2="72.7" stroke="#555" stroke-width="0.8"/>
<line x1="195.2" y1="76.8" x2="197.0" y2="76.8" stroke="#555" stroke-width="0.8"/>
<line x1="195.2" y1="80.8" x2="197.0" y2="80.8" stroke="#555" stroke-width="0.8"/>
<line x1="195.2" y1="84.9" x2="197.0" y2="84.9" stroke="#555" stroke-width="0.8"/>
<line x1="195.2" y1="93.1" x2="197.0" y2="93.1" stroke="#555" stroke-width="0.8"/>
<line x1="195.2" y1="97.2" x2="197.0" y2="97.2" stroke="#555" stroke-width="0.8"/>
<line x1="195.2" y1="101.2" x2="197.0" y2="101.2" stroke="#555" stroke-width="0.8"/>
<line x1="195.2" y1="105.3" x2="197.0" y2="105.3" stroke="#555" stroke-width="0.8"/>
<text x="344.47" y="38.69" font-size="4.77" font-weight="normal" textLength="7.54" lengthAdjust="spacingAndGlyphs" fill="#444" stroke="#444" stroke-width="0.12">80</text>
<line x1="357.0" y1="36.3" x2="360.4" y2="36.3" stroke="#333" stroke-width="0.9"/>
<text x="344.41" y="56.89" font-size="4.77" font-weight="normal" textLength="7.59" lengthAdjust="spacingAndGlyphs" fill="#444" stroke="#444" stroke-width="0.12">60</text>
<line x1="357.0" y1="54.5" x2="360.4" y2="54.5" stroke="#333" stroke-width="0.9"/>
<text x="344.61" y="75.59" font-size="4.77" font-weight="normal" textLength="7.39" lengthAdjust="spacingAndGlyphs" fill="#444" stroke="#444" stroke-width="0.12">40</text>
<line x1="357.0" y1="73.2" x2="360.4" y2="73.2" stroke="#333" stroke-width="0.9"/>
<text x="344.42" y="93.89" font-size="4.77" font-weight="normal" textLength="7.59" lengthAdjust="spacingAndGlyphs" fill="#444" stroke="#444" stroke-width="0.12">20</text>
<line x1="357.0" y1="91.5" x2="360.4" y2="91.5" stroke="#333" stroke-width="0.9"/>
<text x="348.25" y="111.79" font-size="4.77" font-weight="normal" textLength="3.76" lengthAdjust="spacingAndGlyphs" fill="#444" stroke="#444" stroke-width="0.12">0</text>
<line x1="357.0" y1="109.4" x2="360.4" y2="109.4" stroke="#333" stroke-width="0.9"/>
<line x1="358.59999999999997" y1="39.9" x2="360.4" y2="39.9" stroke="#555" stroke-width="0.8"/>
<line x1="358.59999999999997" y1="43.6" x2="360.4" y2="43.6" stroke="#555" stroke-width="0.8"/>
<line x1="358.59999999999997" y1="47.2" x2="360.4" y2="47.2" stroke="#555" stroke-width="0.8"/>
<line x1="358.59999999999997" y1="50.9" x2="360.4" y2="50.9" stroke="#555" stroke-width="0.8"/>
<line x1="358.59999999999997" y1="58.2" x2="360.4" y2="58.2" stroke="#555" stroke-width="0.8"/>
<line x1="358.59999999999997" y1="62.0" x2="360.4" y2="62.0" stroke="#555" stroke-width="0.8"/>
<line x1="358.59999999999997" y1="65.7" x2="360.4" y2="65.7" stroke="#555" stroke-width="0.8"/>
<line x1="358.59999999999997" y1="69.5" x2="360.4" y2="69.5" stroke="#555" stroke-width="0.8"/>
<line x1="358.59999999999997" y1="76.9" x2="360.4" y2="76.9" stroke="#555" stroke-width="0.8"/>
<line x1="358.59999999999997" y1="80.5" x2="360.4" y2="80.5" stroke="#555" stroke-width="0.8"/>
<line x1="358.59999999999997" y1="84.2" x2="360.4" y2="84.2" stroke="#555" stroke-width="0.8"/>
<line x1="358.59999999999997" y1="87.8" x2="360.4" y2="87.8" stroke="#555" stroke-width="0.8"/>
<line x1="358.59999999999997" y1="95.1" x2="360.4" y2="95.1" stroke="#555" stroke-width="0.8"/>
<line x1="358.59999999999997" y1="98.7" x2="360.4" y2="98.7" stroke="#555" stroke-width="0.8"/>
<line x1="358.59999999999997" y1="102.2" x2="360.4" y2="102.2" stroke="#555" stroke-width="0.8"/>
<line x1="358.59999999999997" y1="105.8" x2="360.4" y2="105.8" stroke="#555" stroke-width="0.8"/>
<text x="17.82" y="143.74" font-size="4.84" font-weight="normal" textLength="7.88" lengthAdjust="spacingAndGlyphs" fill="#444" stroke="#444" stroke-width="0.12">12</text>
<line x1="30.6" y1="141.3" x2="34.0" y2="141.3" stroke="#333" stroke-width="0.9"/>
<text x="21.78" y="163.89" font-size="4.77" font-weight="normal" textLength="3.89" lengthAdjust="spacingAndGlyphs" fill="#444" stroke="#444" stroke-width="0.12">9</text>
<line x1="30.6" y1="161.5" x2="34.0" y2="161.5" stroke="#333" stroke-width="0.9"/>
<text x="21.75" y="184.09" font-size="4.77" font-weight="normal" textLength="3.89" lengthAdjust="spacingAndGlyphs" fill="#444" stroke="#444" stroke-width="0.12">6</text>
<line x1="30.6" y1="181.7" x2="34.0" y2="181.7" stroke="#333" stroke-width="0.9"/>
<text x="21.85" y="204.39" font-size="4.77" font-weight="normal" textLength="3.79" lengthAdjust="spacingAndGlyphs" fill="#444" stroke="#444" stroke-width="0.12">3</text>
<line x1="30.6" y1="202.0" x2="34.0" y2="202.0" stroke="#333" stroke-width="0.9"/>
<text x="21.85" y="224.39" font-size="4.77" font-weight="normal" textLength="3.76" lengthAdjust="spacingAndGlyphs" fill="#444" stroke="#444" stroke-width="0.12">0</text>
<line x1="30.6" y1="222" x2="34.0" y2="222" stroke="#333" stroke-width="0.9"/>
<line x1="32.2" y1="145.3" x2="34.0" y2="145.3" stroke="#555" stroke-width="0.8"/>
<line x1="32.2" y1="149.4" x2="34.0" y2="149.4" stroke="#555" stroke-width="0.8"/>
<line x1="32.2" y1="153.4" x2="34.0" y2="153.4" stroke="#555" stroke-width="0.8"/>
<line x1="32.2" y1="157.5" x2="34.0" y2="157.5" stroke="#555" stroke-width="0.8"/>
<line x1="32.2" y1="165.5" x2="34.0" y2="165.5" stroke="#555" stroke-width="0.8"/>
<line x1="32.2" y1="169.6" x2="34.0" y2="169.6" stroke="#555" stroke-width="0.8"/>
<line x1="32.2" y1="173.6" x2="34.0" y2="173.6" stroke="#555" stroke-width="0.8"/>
<line x1="32.2" y1="177.7" x2="34.0" y2="177.7" stroke="#555" stroke-width="0.8"/>
<line x1="32.2" y1="185.8" x2="34.0" y2="185.8" stroke="#555" stroke-width="0.8"/>
<line x1="32.2" y1="189.8" x2="34.0" y2="189.8" stroke="#555" stroke-width="0.8"/>
<line x1="32.2" y1="193.9" x2="34.0" y2="193.9" stroke="#555" stroke-width="0.8"/>
<line x1="32.2" y1="197.9" x2="34.0" y2="197.9" stroke="#555" stroke-width="0.8"/>
<line x1="32.2" y1="206.0" x2="34.0" y2="206.0" stroke="#555" stroke-width="0.8"/>
<line x1="32.2" y1="210.0" x2="34.0" y2="210.0" stroke="#555" stroke-width="0.8"/>
<line x1="32.2" y1="214.0" x2="34.0" y2="214.0" stroke="#555" stroke-width="0.8"/>
<line x1="32.2" y1="218.0" x2="34.0" y2="218.0" stroke="#555" stroke-width="0.8"/>
<text x="181.10" y="151.59" font-size="4.77" font-weight="normal" textLength="7.50" lengthAdjust="spacingAndGlyphs" fill="#444" stroke="#444" stroke-width="0.12">30</text>
<line x1="193.6" y1="149.2" x2="197.0" y2="149.2" stroke="#333" stroke-width="0.9"/>
<text x="181.02" y="175.99" font-size="4.77" font-weight="normal" textLength="7.59" lengthAdjust="spacingAndGlyphs" fill="#444" stroke="#444" stroke-width="0.12">20</text>
<line x1="193.6" y1="173.6" x2="197.0" y2="173.6" stroke="#333" stroke-width="0.9"/>
<text x="180.83" y="200.19" font-size="4.77" font-weight="normal" textLength="7.79" lengthAdjust="spacingAndGlyphs" fill="#444" stroke="#444" stroke-width="0.12">10</text>
<line x1="193.6" y1="197.8" x2="197.0" y2="197.8" stroke="#333" stroke-width="0.9"/>
<text x="184.85" y="224.39" font-size="4.77" font-weight="normal" textLength="3.76" lengthAdjust="spacingAndGlyphs" fill="#444" stroke="#444" stroke-width="0.12">0</text>
<line x1="193.6" y1="222" x2="197.0" y2="222" stroke="#333" stroke-width="0.9"/>
<line x1="195.2" y1="154.1" x2="197.0" y2="154.1" stroke="#555" stroke-width="0.8"/>
<line x1="195.2" y1="159.0" x2="197.0" y2="159.0" stroke="#555" stroke-width="0.8"/>
<line x1="195.2" y1="163.8" x2="197.0" y2="163.8" stroke="#555" stroke-width="0.8"/>
<line x1="195.2" y1="168.7" x2="197.0" y2="168.7" stroke="#555" stroke-width="0.8"/>
<line x1="195.2" y1="178.4" x2="197.0" y2="178.4" stroke="#555" stroke-width="0.8"/>
<line x1="195.2" y1="183.3" x2="197.0" y2="183.3" stroke="#555" stroke-width="0.8"/>
<line x1="195.2" y1="188.1" x2="197.0" y2="188.1" stroke="#555" stroke-width="0.8"/>
<line x1="195.2" y1="193.0" x2="197.0" y2="193.0" stroke="#555" stroke-width="0.8"/>
<line x1="195.2" y1="202.6" x2="197.0" y2="202.6" stroke="#555" stroke-width="0.8"/>
<line x1="195.2" y1="207.5" x2="197.0" y2="207.5" stroke="#555" stroke-width="0.8"/>
<line x1="195.2" y1="212.3" x2="197.0" y2="212.3" stroke="#555" stroke-width="0.8"/>
<line x1="195.2" y1="217.2" x2="197.0" y2="217.2" stroke="#555" stroke-width="0.8"/>
<text x="344.42" y="145.99" font-size="4.77" font-weight="normal" textLength="7.59" lengthAdjust="spacingAndGlyphs" fill="#444" stroke="#444" stroke-width="0.12">20</text>
<line x1="357.0" y1="143.6" x2="360.4" y2="143.6" stroke="#333" stroke-width="0.9"/>
<text x="344.23" y="165.59" font-size="4.84" font-weight="normal" textLength="7.81" lengthAdjust="spacingAndGlyphs" fill="#444" stroke="#444" stroke-width="0.12">15</text>
<line x1="357.0" y1="163.2" x2="360.4" y2="163.2" stroke="#333" stroke-width="0.9"/>
<text x="344.23" y="185.19" font-size="4.77" font-weight="normal" textLength="7.79" lengthAdjust="spacingAndGlyphs" fill="#444" stroke="#444" stroke-width="0.12">10</text>
<line x1="357.0" y1="182.8" x2="360.4" y2="182.8" stroke="#333" stroke-width="0.9"/>
<text x="348.24" y="204.89" font-size="4.84" font-weight="normal" textLength="3.79" lengthAdjust="spacingAndGlyphs" fill="#444" stroke="#444" stroke-width="0.12">5</text>
<line x1="357.0" y1="202.5" x2="360.4" y2="202.5" stroke="#333" stroke-width="0.9"/>
<text x="348.25" y="224.39" font-size="4.77" font-weight="normal" textLength="3.76" lengthAdjust="spacingAndGlyphs" fill="#444" stroke="#444" stroke-width="0.12">0</text>
<line x1="357.0" y1="222" x2="360.4" y2="222" stroke="#333" stroke-width="0.9"/>
<line x1="358.59999999999997" y1="147.5" x2="360.4" y2="147.5" stroke="#555" stroke-width="0.8"/>
<line x1="358.59999999999997" y1="151.4" x2="360.4" y2="151.4" stroke="#555" stroke-width="0.8"/>
<line x1="358.59999999999997" y1="155.4" x2="360.4" y2="155.4" stroke="#555" stroke-width="0.8"/>
<line x1="358.59999999999997" y1="159.3" x2="360.4" y2="159.3" stroke="#555" stroke-width="0.8"/>
<line x1="358.59999999999997" y1="167.1" x2="360.4" y2="167.1" stroke="#555" stroke-width="0.8"/>
<line x1="358.59999999999997" y1="171.0" x2="360.4" y2="171.0" stroke="#555" stroke-width="0.8"/>
<line x1="358.59999999999997" y1="175.0" x2="360.4" y2="175.0" stroke="#555" stroke-width="0.8"/>
<line x1="358.59999999999997" y1="178.9" x2="360.4" y2="178.9" stroke="#555" stroke-width="0.8"/>
<line x1="358.59999999999997" y1="186.7" x2="360.4" y2="186.7" stroke="#555" stroke-width="0.8"/>
<line x1="358.59999999999997" y1="190.7" x2="360.4" y2="190.7" stroke="#555" stroke-width="0.8"/>
<line x1="358.59999999999997" y1="194.6" x2="360.4" y2="194.6" stroke="#555" stroke-width="0.8"/>
<line x1="358.59999999999997" y1="198.6" x2="360.4" y2="198.6" stroke="#555" stroke-width="0.8"/>
<line x1="358.59999999999997" y1="206.4" x2="360.4" y2="206.4" stroke="#555" stroke-width="0.8"/>
<line x1="358.59999999999997" y1="210.3" x2="360.4" y2="210.3" stroke="#555" stroke-width="0.8"/>
<line x1="358.59999999999997" y1="214.2" x2="360.4" y2="214.2" stroke="#555" stroke-width="0.8"/>
<line x1="358.59999999999997" y1="218.1" x2="360.4" y2="218.1" stroke="#555" stroke-width="0.8"/>
<text x="46.23" y="119.91" font-size="3.95" font-weight="normal" textLength="3.14" lengthAdjust="spacingAndGlyphs" fill="#444" stroke="#444" stroke-width="0.1">0</text>
<text x="56.65" y="119.91" font-size="3.95" font-weight="normal" textLength="7.36" lengthAdjust="spacingAndGlyphs" fill="#444" stroke="#444" stroke-width="0.1">10</text>
<text x="67.00" y="117.65" font-size="3.87" font-weight="normal" textLength="2.81" lengthAdjust="spacingAndGlyphs" fill="#444" stroke="#444" stroke-width="0.1">2</text>
<text x="89.35" y="119.91" font-size="3.95" font-weight="normal" textLength="7.36" lengthAdjust="spacingAndGlyphs" fill="#444" stroke="#444" stroke-width="0.1">10</text>
<text x="99.77" y="117.61" font-size="3.81" font-weight="normal" textLength="2.70" lengthAdjust="spacingAndGlyphs" fill="#444" stroke="#444" stroke-width="0.1">3</text>
<text x="121.05" y="119.91" font-size="3.95" font-weight="normal" textLength="7.36" lengthAdjust="spacingAndGlyphs" fill="#444" stroke="#444" stroke-width="0.1">10</text>
<text x="131.55" y="117.65" font-size="3.92" font-weight="normal" textLength="2.54" lengthAdjust="spacingAndGlyphs" fill="#444" stroke="#444" stroke-width="0.1">4</text>
<text x="151.45" y="119.91" font-size="3.95" font-weight="normal" textLength="7.36" lengthAdjust="spacingAndGlyphs" fill="#444" stroke="#444" stroke-width="0.1">10</text>
<text x="161.86" y="117.61" font-size="3.87" font-weight="normal" textLength="2.70" lengthAdjust="spacingAndGlyphs" fill="#444" stroke="#444" stroke-width="0.1">5</text>
<line x1="47.8" y1="109.3" x2="47.8" y2="112.3" stroke="#222" stroke-width="0.9"/>
<line x1="63.6" y1="109.3" x2="63.6" y2="112.3" stroke="#222" stroke-width="0.9"/>
<line x1="96.3" y1="109.3" x2="96.3" y2="112.3" stroke="#222" stroke-width="0.9"/>
<line x1="128.0" y1="109.3" x2="128.0" y2="112.3" stroke="#222" stroke-width="0.9"/>
<line x1="158.4" y1="109.3" x2="158.4" y2="112.3" stroke="#222" stroke-width="0.9"/>
<line x1="35.5" y1="109.3" x2="35.5" y2="111.3" stroke="#222" stroke-width="0.9"/>
<line x1="38.0" y1="109.3" x2="38.0" y2="111.3" stroke="#222" stroke-width="0.9"/>
<line x1="40.6" y1="109.3" x2="40.6" y2="111.3" stroke="#222" stroke-width="0.9"/>
<line x1="43.1" y1="109.3" x2="43.1" y2="111.3" stroke="#222" stroke-width="0.9"/>
<line x1="45.7" y1="109.3" x2="45.7" y2="111.3" stroke="#222" stroke-width="0.9"/>
<line x1="50.8" y1="109.3" x2="50.8" y2="111.3" stroke="#222" stroke-width="0.9"/>
<line x1="53.3" y1="109.3" x2="53.3" y2="111.3" stroke="#222" stroke-width="0.9"/>
<line x1="55.9" y1="109.3" x2="55.9" y2="111.3" stroke="#222" stroke-width="0.9"/>
<line x1="58.4" y1="109.3" x2="58.4" y2="111.3" stroke="#222" stroke-width="0.9"/>
<line x1="61.0" y1="109.3" x2="61.0" y2="111.3" stroke="#222" stroke-width="0.9"/>
<line x1="66.1" y1="109.3" x2="66.1" y2="111.3" stroke="#222" stroke-width="0.9"/>
<line x1="68.6" y1="109.3" x2="68.6" y2="111.3" stroke="#222" stroke-width="0.9"/>
<line x1="73.4" y1="109.3" x2="73.4" y2="111.3" stroke="#222" stroke-width="0.9"/>
<line x1="79.2" y1="109.3" x2="79.2" y2="111.3" stroke="#222" stroke-width="0.9"/>
<line x1="83.3" y1="109.3" x2="83.3" y2="111.3" stroke="#222" stroke-width="0.9"/>
<line x1="86.5" y1="109.3" x2="86.5" y2="111.3" stroke="#222" stroke-width="0.9"/>
<line x1="89.0" y1="109.3" x2="89.0" y2="111.3" stroke="#222" stroke-width="0.9"/>
<line x1="91.2" y1="109.3" x2="91.2" y2="111.3" stroke="#222" stroke-width="0.9"/>
<line x1="93.1" y1="109.3" x2="93.1" y2="111.3" stroke="#222" stroke-width="0.9"/>
<line x1="94.8" y1="109.3" x2="94.8" y2="111.3" stroke="#222" stroke-width="0.9"/>
<line x1="105.8" y1="109.3" x2="105.8" y2="111.3" stroke="#222" stroke-width="0.9"/>
<line x1="111.4" y1="109.3" x2="111.4" y2="111.3" stroke="#222" stroke-width="0.9"/>
<line x1="115.4" y1="109.3" x2="115.4" y2="111.3" stroke="#222" stroke-width="0.9"/>
<line x1="118.5" y1="109.3" x2="118.5" y2="111.3" stroke="#222" stroke-width="0.9"/>
<line x1="121.0" y1="109.3" x2="121.0" y2="111.3" stroke="#222" stroke-width="0.9"/>
<line x1="123.1" y1="109.3" x2="123.1" y2="111.3" stroke="#222" stroke-width="0.9"/>
<line x1="124.9" y1="109.3" x2="124.9" y2="111.3" stroke="#222" stroke-width="0.9"/>
<line x1="126.5" y1="109.3" x2="126.5" y2="111.3" stroke="#222" stroke-width="0.9"/>
<line x1="137.2" y1="109.3" x2="137.2" y2="111.3" stroke="#222" stroke-width="0.9"/>
<line x1="142.5" y1="109.3" x2="142.5" y2="111.3" stroke="#222" stroke-width="0.9"/>
<line x1="146.3" y1="109.3" x2="146.3" y2="111.3" stroke="#222" stroke-width="0.9"/>
<line x1="149.2" y1="109.3" x2="149.2" y2="111.3" stroke="#222" stroke-width="0.9"/>
<line x1="151.7" y1="109.3" x2="151.7" y2="111.3" stroke="#222" stroke-width="0.9"/>
<line x1="153.7" y1="109.3" x2="153.7" y2="111.3" stroke="#222" stroke-width="0.9"/>
<line x1="155.5" y1="109.3" x2="155.5" y2="111.3" stroke="#222" stroke-width="0.9"/>
<line x1="157.0" y1="109.3" x2="157.0" y2="111.3" stroke="#222" stroke-width="0.9"/>
<line x1="167.6" y1="109.3" x2="167.6" y2="111.3" stroke="#222" stroke-width="0.9"/>
<text x="46.23" y="232.41" font-size="3.95" font-weight="normal" textLength="3.14" lengthAdjust="spacingAndGlyphs" fill="#444" stroke="#444" stroke-width="0.1">0</text>
<text x="56.65" y="232.41" font-size="3.95" font-weight="normal" textLength="7.36" lengthAdjust="spacingAndGlyphs" fill="#444" stroke="#444" stroke-width="0.1">10</text>
<text x="67.00" y="230.15" font-size="3.87" font-weight="normal" textLength="2.81" lengthAdjust="spacingAndGlyphs" fill="#444" stroke="#444" stroke-width="0.1">2</text>
<text x="89.35" y="232.41" font-size="3.95" font-weight="normal" textLength="7.36" lengthAdjust="spacingAndGlyphs" fill="#444" stroke="#444" stroke-width="0.1">10</text>
<text x="99.77" y="230.11" font-size="3.81" font-weight="normal" textLength="2.70" lengthAdjust="spacingAndGlyphs" fill="#444" stroke="#444" stroke-width="0.1">3</text>
<text x="121.05" y="232.41" font-size="3.95" font-weight="normal" textLength="7.36" lengthAdjust="spacingAndGlyphs" fill="#444" stroke="#444" stroke-width="0.1">10</text>
<text x="131.55" y="230.15" font-size="3.92" font-weight="normal" textLength="2.54" lengthAdjust="spacingAndGlyphs" fill="#444" stroke="#444" stroke-width="0.1">4</text>
<text x="151.45" y="232.41" font-size="3.95" font-weight="normal" textLength="7.36" lengthAdjust="spacingAndGlyphs" fill="#444" stroke="#444" stroke-width="0.1">10</text>
<text x="161.86" y="230.11" font-size="3.87" font-weight="normal" textLength="2.70" lengthAdjust="spacingAndGlyphs" fill="#444" stroke="#444" stroke-width="0.1">5</text>
<line x1="47.8" y1="221.8" x2="47.8" y2="224.8" stroke="#222" stroke-width="0.9"/>
<line x1="63.6" y1="221.8" x2="63.6" y2="224.8" stroke="#222" stroke-width="0.9"/>
<line x1="96.3" y1="221.8" x2="96.3" y2="224.8" stroke="#222" stroke-width="0.9"/>
<line x1="128.0" y1="221.8" x2="128.0" y2="224.8" stroke="#222" stroke-width="0.9"/>
<line x1="158.4" y1="221.8" x2="158.4" y2="224.8" stroke="#222" stroke-width="0.9"/>
<line x1="35.5" y1="221.8" x2="35.5" y2="223.8" stroke="#222" stroke-width="0.9"/>
<line x1="38.0" y1="221.8" x2="38.0" y2="223.8" stroke="#222" stroke-width="0.9"/>
<line x1="40.6" y1="221.8" x2="40.6" y2="223.8" stroke="#222" stroke-width="0.9"/>
<line x1="43.1" y1="221.8" x2="43.1" y2="223.8" stroke="#222" stroke-width="0.9"/>
<line x1="45.7" y1="221.8" x2="45.7" y2="223.8" stroke="#222" stroke-width="0.9"/>
<line x1="50.8" y1="221.8" x2="50.8" y2="223.8" stroke="#222" stroke-width="0.9"/>
<line x1="53.3" y1="221.8" x2="53.3" y2="223.8" stroke="#222" stroke-width="0.9"/>
<line x1="55.9" y1="221.8" x2="55.9" y2="223.8" stroke="#222" stroke-width="0.9"/>
<line x1="58.4" y1="221.8" x2="58.4" y2="223.8" stroke="#222" stroke-width="0.9"/>
<line x1="61.0" y1="221.8" x2="61.0" y2="223.8" stroke="#222" stroke-width="0.9"/>
<line x1="66.1" y1="221.8" x2="66.1" y2="223.8" stroke="#222" stroke-width="0.9"/>
<line x1="68.6" y1="221.8" x2="68.6" y2="223.8" stroke="#222" stroke-width="0.9"/>
<line x1="73.4" y1="221.8" x2="73.4" y2="223.8" stroke="#222" stroke-width="0.9"/>
<line x1="79.2" y1="221.8" x2="79.2" y2="223.8" stroke="#222" stroke-width="0.9"/>
<line x1="83.3" y1="221.8" x2="83.3" y2="223.8" stroke="#222" stroke-width="0.9"/>
<line x1="86.5" y1="221.8" x2="86.5" y2="223.8" stroke="#222" stroke-width="0.9"/>
<line x1="89.0" y1="221.8" x2="89.0" y2="223.8" stroke="#222" stroke-width="0.9"/>
<line x1="91.2" y1="221.8" x2="91.2" y2="223.8" stroke="#222" stroke-width="0.9"/>
<line x1="93.1" y1="221.8" x2="93.1" y2="223.8" stroke="#222" stroke-width="0.9"/>
<line x1="94.8" y1="221.8" x2="94.8" y2="223.8" stroke="#222" stroke-width="0.9"/>
<line x1="105.8" y1="221.8" x2="105.8" y2="223.8" stroke="#222" stroke-width="0.9"/>
<line x1="111.4" y1="221.8" x2="111.4" y2="223.8" stroke="#222" stroke-width="0.9"/>
<line x1="115.4" y1="221.8" x2="115.4" y2="223.8" stroke="#222" stroke-width="0.9"/>
<line x1="118.5" y1="221.8" x2="118.5" y2="223.8" stroke="#222" stroke-width="0.9"/>
<line x1="121.0" y1="221.8" x2="121.0" y2="223.8" stroke="#222" stroke-width="0.9"/>
<line x1="123.1" y1="221.8" x2="123.1" y2="223.8" stroke="#222" stroke-width="0.9"/>
<line x1="124.9" y1="221.8" x2="124.9" y2="223.8" stroke="#222" stroke-width="0.9"/>
<line x1="126.5" y1="221.8" x2="126.5" y2="223.8" stroke="#222" stroke-width="0.9"/>
<line x1="137.2" y1="221.8" x2="137.2" y2="223.8" stroke="#222" stroke-width="0.9"/>
<line x1="142.5" y1="221.8" x2="142.5" y2="223.8" stroke="#222" stroke-width="0.9"/>
<line x1="146.3" y1="221.8" x2="146.3" y2="223.8" stroke="#222" stroke-width="0.9"/>
<line x1="149.2" y1="221.8" x2="149.2" y2="223.8" stroke="#222" stroke-width="0.9"/>
<line x1="151.7" y1="221.8" x2="151.7" y2="223.8" stroke="#222" stroke-width="0.9"/>
<line x1="153.7" y1="221.8" x2="153.7" y2="223.8" stroke="#222" stroke-width="0.9"/>
<line x1="155.5" y1="221.8" x2="155.5" y2="223.8" stroke="#222" stroke-width="0.9"/>
<line x1="157.0" y1="221.8" x2="157.0" y2="223.8" stroke="#222" stroke-width="0.9"/>
<line x1="167.6" y1="221.8" x2="167.6" y2="223.8" stroke="#222" stroke-width="0.9"/>
<text x="209.23" y="119.91" font-size="3.95" font-weight="normal" textLength="3.14" lengthAdjust="spacingAndGlyphs" fill="#444" stroke="#444" stroke-width="0.1">0</text>
<text x="219.65" y="119.91" font-size="3.95" font-weight="normal" textLength="7.36" lengthAdjust="spacingAndGlyphs" fill="#444" stroke="#444" stroke-width="0.1">10</text>
<text x="230.00" y="117.65" font-size="3.87" font-weight="normal" textLength="2.81" lengthAdjust="spacingAndGlyphs" fill="#444" stroke="#444" stroke-width="0.1">2</text>
<text x="252.35" y="119.91" font-size="3.95" font-weight="normal" textLength="7.36" lengthAdjust="spacingAndGlyphs" fill="#444" stroke="#444" stroke-width="0.1">10</text>
<text x="262.77" y="117.61" font-size="3.81" font-weight="normal" textLength="2.70" lengthAdjust="spacingAndGlyphs" fill="#444" stroke="#444" stroke-width="0.1">3</text>
<text x="284.05" y="119.91" font-size="3.95" font-weight="normal" textLength="7.36" lengthAdjust="spacingAndGlyphs" fill="#444" stroke="#444" stroke-width="0.1">10</text>
<text x="294.55" y="117.65" font-size="3.92" font-weight="normal" textLength="2.54" lengthAdjust="spacingAndGlyphs" fill="#444" stroke="#444" stroke-width="0.1">4</text>
<text x="314.45" y="119.91" font-size="3.95" font-weight="normal" textLength="7.36" lengthAdjust="spacingAndGlyphs" fill="#444" stroke="#444" stroke-width="0.1">10</text>
<text x="324.86" y="117.61" font-size="3.87" font-weight="normal" textLength="2.70" lengthAdjust="spacingAndGlyphs" fill="#444" stroke="#444" stroke-width="0.1">5</text>
<line x1="210.8" y1="109.3" x2="210.8" y2="112.3" stroke="#222" stroke-width="0.9"/>
<line x1="226.6" y1="109.3" x2="226.6" y2="112.3" stroke="#222" stroke-width="0.9"/>
<line x1="259.3" y1="109.3" x2="259.3" y2="112.3" stroke="#222" stroke-width="0.9"/>
<line x1="291.0" y1="109.3" x2="291.0" y2="112.3" stroke="#222" stroke-width="0.9"/>
<line x1="321.4" y1="109.3" x2="321.4" y2="112.3" stroke="#222" stroke-width="0.9"/>
<line x1="198.5" y1="109.3" x2="198.5" y2="111.3" stroke="#222" stroke-width="0.9"/>
<line x1="201.1" y1="109.3" x2="201.1" y2="111.3" stroke="#222" stroke-width="0.9"/>
<line x1="203.6" y1="109.3" x2="203.6" y2="111.3" stroke="#222" stroke-width="0.9"/>
<line x1="206.2" y1="109.3" x2="206.2" y2="111.3" stroke="#222" stroke-width="0.9"/>
<line x1="208.7" y1="109.3" x2="208.7" y2="111.3" stroke="#222" stroke-width="0.9"/>
<line x1="213.8" y1="109.3" x2="213.8" y2="111.3" stroke="#222" stroke-width="0.9"/>
<line x1="216.4" y1="109.3" x2="216.4" y2="111.3" stroke="#222" stroke-width="0.9"/>
<line x1="218.9" y1="109.3" x2="218.9" y2="111.3" stroke="#222" stroke-width="0.9"/>
<line x1="221.5" y1="109.3" x2="221.5" y2="111.3" stroke="#222" stroke-width="0.9"/>
<line x1="224.0" y1="109.3" x2="224.0" y2="111.3" stroke="#222" stroke-width="0.9"/>
<line x1="229.1" y1="109.3" x2="229.1" y2="111.3" stroke="#222" stroke-width="0.9"/>
<line x1="231.7" y1="109.3" x2="231.7" y2="111.3" stroke="#222" stroke-width="0.9"/>
<line x1="236.4" y1="109.3" x2="236.4" y2="111.3" stroke="#222" stroke-width="0.9"/>
<line x1="242.2" y1="109.3" x2="242.2" y2="111.3" stroke="#222" stroke-width="0.9"/>
<line x1="246.3" y1="109.3" x2="246.3" y2="111.3" stroke="#222" stroke-width="0.9"/>
<line x1="249.5" y1="109.3" x2="249.5" y2="111.3" stroke="#222" stroke-width="0.9"/>
<line x1="252.0" y1="109.3" x2="252.0" y2="111.3" stroke="#222" stroke-width="0.9"/>
<line x1="254.2" y1="109.3" x2="254.2" y2="111.3" stroke="#222" stroke-width="0.9"/>
<line x1="256.1" y1="109.3" x2="256.1" y2="111.3" stroke="#222" stroke-width="0.9"/>
<line x1="257.8" y1="109.3" x2="257.8" y2="111.3" stroke="#222" stroke-width="0.9"/>
<line x1="268.8" y1="109.3" x2="268.8" y2="111.3" stroke="#222" stroke-width="0.9"/>
<line x1="274.4" y1="109.3" x2="274.4" y2="111.3" stroke="#222" stroke-width="0.9"/>
<line x1="278.4" y1="109.3" x2="278.4" y2="111.3" stroke="#222" stroke-width="0.9"/>
<line x1="281.5" y1="109.3" x2="281.5" y2="111.3" stroke="#222" stroke-width="0.9"/>
<line x1="284.0" y1="109.3" x2="284.0" y2="111.3" stroke="#222" stroke-width="0.9"/>
<line x1="286.1" y1="109.3" x2="286.1" y2="111.3" stroke="#222" stroke-width="0.9"/>
<line x1="287.9" y1="109.3" x2="287.9" y2="111.3" stroke="#222" stroke-width="0.9"/>
<line x1="289.5" y1="109.3" x2="289.5" y2="111.3" stroke="#222" stroke-width="0.9"/>
<line x1="300.2" y1="109.3" x2="300.2" y2="111.3" stroke="#222" stroke-width="0.9"/>
<line x1="305.5" y1="109.3" x2="305.5" y2="111.3" stroke="#222" stroke-width="0.9"/>
<line x1="309.3" y1="109.3" x2="309.3" y2="111.3" stroke="#222" stroke-width="0.9"/>
<line x1="312.2" y1="109.3" x2="312.2" y2="111.3" stroke="#222" stroke-width="0.9"/>
<line x1="314.7" y1="109.3" x2="314.7" y2="111.3" stroke="#222" stroke-width="0.9"/>
<line x1="316.7" y1="109.3" x2="316.7" y2="111.3" stroke="#222" stroke-width="0.9"/>
<line x1="318.5" y1="109.3" x2="318.5" y2="111.3" stroke="#222" stroke-width="0.9"/>
<line x1="320.0" y1="109.3" x2="320.0" y2="111.3" stroke="#222" stroke-width="0.9"/>
<line x1="330.6" y1="109.3" x2="330.6" y2="111.3" stroke="#222" stroke-width="0.9"/>
<text x="209.23" y="232.41" font-size="3.95" font-weight="normal" textLength="3.14" lengthAdjust="spacingAndGlyphs" fill="#444" stroke="#444" stroke-width="0.1">0</text>
<text x="219.65" y="232.41" font-size="3.95" font-weight="normal" textLength="7.36" lengthAdjust="spacingAndGlyphs" fill="#444" stroke="#444" stroke-width="0.1">10</text>
<text x="230.00" y="230.15" font-size="3.87" font-weight="normal" textLength="2.81" lengthAdjust="spacingAndGlyphs" fill="#444" stroke="#444" stroke-width="0.1">2</text>
<text x="252.35" y="232.41" font-size="3.95" font-weight="normal" textLength="7.36" lengthAdjust="spacingAndGlyphs" fill="#444" stroke="#444" stroke-width="0.1">10</text>
<text x="262.77" y="230.11" font-size="3.81" font-weight="normal" textLength="2.70" lengthAdjust="spacingAndGlyphs" fill="#444" stroke="#444" stroke-width="0.1">3</text>
<text x="284.05" y="232.41" font-size="3.95" font-weight="normal" textLength="7.36" lengthAdjust="spacingAndGlyphs" fill="#444" stroke="#444" stroke-width="0.1">10</text>
<text x="294.55" y="230.15" font-size="3.92" font-weight="normal" textLength="2.54" lengthAdjust="spacingAndGlyphs" fill="#444" stroke="#444" stroke-width="0.1">4</text>
<text x="314.45" y="232.41" font-size="3.95" font-weight="normal" textLength="7.36" lengthAdjust="spacingAndGlyphs" fill="#444" stroke="#444" stroke-width="0.1">10</text>
<text x="324.86" y="230.11" font-size="3.87" font-weight="normal" textLength="2.70" lengthAdjust="spacingAndGlyphs" fill="#444" stroke="#444" stroke-width="0.1">5</text>
<line x1="210.8" y1="221.8" x2="210.8" y2="224.8" stroke="#222" stroke-width="0.9"/>
<line x1="226.6" y1="221.8" x2="226.6" y2="224.8" stroke="#222" stroke-width="0.9"/>
<line x1="259.3" y1="221.8" x2="259.3" y2="224.8" stroke="#222" stroke-width="0.9"/>
<line x1="291.0" y1="221.8" x2="291.0" y2="224.8" stroke="#222" stroke-width="0.9"/>
<line x1="321.4" y1="221.8" x2="321.4" y2="224.8" stroke="#222" stroke-width="0.9"/>
<line x1="198.5" y1="221.8" x2="198.5" y2="223.8" stroke="#222" stroke-width="0.9"/>
<line x1="201.1" y1="221.8" x2="201.1" y2="223.8" stroke="#222" stroke-width="0.9"/>
<line x1="203.6" y1="221.8" x2="203.6" y2="223.8" stroke="#222" stroke-width="0.9"/>
<line x1="206.2" y1="221.8" x2="206.2" y2="223.8" stroke="#222" stroke-width="0.9"/>
<line x1="208.7" y1="221.8" x2="208.7" y2="223.8" stroke="#222" stroke-width="0.9"/>
<line x1="213.8" y1="221.8" x2="213.8" y2="223.8" stroke="#222" stroke-width="0.9"/>
<line x1="216.4" y1="221.8" x2="216.4" y2="223.8" stroke="#222" stroke-width="0.9"/>
<line x1="218.9" y1="221.8" x2="218.9" y2="223.8" stroke="#222" stroke-width="0.9"/>
<line x1="221.5" y1="221.8" x2="221.5" y2="223.8" stroke="#222" stroke-width="0.9"/>
<line x1="224.0" y1="221.8" x2="224.0" y2="223.8" stroke="#222" stroke-width="0.9"/>
<line x1="229.1" y1="221.8" x2="229.1" y2="223.8" stroke="#222" stroke-width="0.9"/>
<line x1="231.7" y1="221.8" x2="231.7" y2="223.8" stroke="#222" stroke-width="0.9"/>
<line x1="236.4" y1="221.8" x2="236.4" y2="223.8" stroke="#222" stroke-width="0.9"/>
<line x1="242.2" y1="221.8" x2="242.2" y2="223.8" stroke="#222" stroke-width="0.9"/>
<line x1="246.3" y1="221.8" x2="246.3" y2="223.8" stroke="#222" stroke-width="0.9"/>
<line x1="249.5" y1="221.8" x2="249.5" y2="223.8" stroke="#222" stroke-width="0.9"/>
<line x1="252.0" y1="221.8" x2="252.0" y2="223.8" stroke="#222" stroke-width="0.9"/>
<line x1="254.2" y1="221.8" x2="254.2" y2="223.8" stroke="#222" stroke-width="0.9"/>
<line x1="256.1" y1="221.8" x2="256.1" y2="223.8" stroke="#222" stroke-width="0.9"/>
<line x1="257.8" y1="221.8" x2="257.8" y2="223.8" stroke="#222" stroke-width="0.9"/>
<line x1="268.8" y1="221.8" x2="268.8" y2="223.8" stroke="#222" stroke-width="0.9"/>
<line x1="274.4" y1="221.8" x2="274.4" y2="223.8" stroke="#222" stroke-width="0.9"/>
<line x1="278.4" y1="221.8" x2="278.4" y2="223.8" stroke="#222" stroke-width="0.9"/>
<line x1="281.5" y1="221.8" x2="281.5" y2="223.8" stroke="#222" stroke-width="0.9"/>
<line x1="284.0" y1="221.8" x2="284.0" y2="223.8" stroke="#222" stroke-width="0.9"/>
<line x1="286.1" y1="221.8" x2="286.1" y2="223.8" stroke="#222" stroke-width="0.9"/>
<line x1="287.9" y1="221.8" x2="287.9" y2="223.8" stroke="#222" stroke-width="0.9"/>
<line x1="289.5" y1="221.8" x2="289.5" y2="223.8" stroke="#222" stroke-width="0.9"/>
<line x1="300.2" y1="221.8" x2="300.2" y2="223.8" stroke="#222" stroke-width="0.9"/>
<line x1="305.5" y1="221.8" x2="305.5" y2="223.8" stroke="#222" stroke-width="0.9"/>
<line x1="309.3" y1="221.8" x2="309.3" y2="223.8" stroke="#222" stroke-width="0.9"/>
<line x1="312.2" y1="221.8" x2="312.2" y2="223.8" stroke="#222" stroke-width="0.9"/>
<line x1="314.7" y1="221.8" x2="314.7" y2="223.8" stroke="#222" stroke-width="0.9"/>
<line x1="316.7" y1="221.8" x2="316.7" y2="223.8" stroke="#222" stroke-width="0.9"/>
<line x1="318.5" y1="221.8" x2="318.5" y2="223.8" stroke="#222" stroke-width="0.9"/>
<line x1="320.0" y1="221.8" x2="320.0" y2="223.8" stroke="#222" stroke-width="0.9"/>
<line x1="330.6" y1="221.8" x2="330.6" y2="223.8" stroke="#222" stroke-width="0.9"/>
<text x="372.63" y="119.91" font-size="3.95" font-weight="normal" textLength="3.14" lengthAdjust="spacingAndGlyphs" fill="#444" stroke="#444" stroke-width="0.1">0</text>
<text x="383.05" y="119.91" font-size="3.95" font-weight="normal" textLength="7.36" lengthAdjust="spacingAndGlyphs" fill="#444" stroke="#444" stroke-width="0.1">10</text>
<text x="393.40" y="117.65" font-size="3.87" font-weight="normal" textLength="2.81" lengthAdjust="spacingAndGlyphs" fill="#444" stroke="#444" stroke-width="0.1">2</text>
<text x="415.75" y="119.91" font-size="3.95" font-weight="normal" textLength="7.36" lengthAdjust="spacingAndGlyphs" fill="#444" stroke="#444" stroke-width="0.1">10</text>
<text x="426.17" y="117.61" font-size="3.81" font-weight="normal" textLength="2.70" lengthAdjust="spacingAndGlyphs" fill="#444" stroke="#444" stroke-width="0.1">3</text>
<text x="447.45" y="119.91" font-size="3.95" font-weight="normal" textLength="7.36" lengthAdjust="spacingAndGlyphs" fill="#444" stroke="#444" stroke-width="0.1">10</text>
<text x="457.95" y="117.65" font-size="3.92" font-weight="normal" textLength="2.54" lengthAdjust="spacingAndGlyphs" fill="#444" stroke="#444" stroke-width="0.1">4</text>
<text x="477.85" y="119.91" font-size="3.95" font-weight="normal" textLength="7.36" lengthAdjust="spacingAndGlyphs" fill="#444" stroke="#444" stroke-width="0.1">10</text>
<text x="488.26" y="117.61" font-size="3.87" font-weight="normal" textLength="2.70" lengthAdjust="spacingAndGlyphs" fill="#444" stroke="#444" stroke-width="0.1">5</text>
<line x1="374.2" y1="109.3" x2="374.2" y2="112.3" stroke="#222" stroke-width="0.9"/>
<line x1="390.0" y1="109.3" x2="390.0" y2="112.3" stroke="#222" stroke-width="0.9"/>
<line x1="422.7" y1="109.3" x2="422.7" y2="112.3" stroke="#222" stroke-width="0.9"/>
<line x1="454.4" y1="109.3" x2="454.4" y2="112.3" stroke="#222" stroke-width="0.9"/>
<line x1="484.8" y1="109.3" x2="484.8" y2="112.3" stroke="#222" stroke-width="0.9"/>
<line x1="361.9" y1="109.3" x2="361.9" y2="111.3" stroke="#222" stroke-width="0.9"/>
<line x1="364.4" y1="109.3" x2="364.4" y2="111.3" stroke="#222" stroke-width="0.9"/>
<line x1="367.0" y1="109.3" x2="367.0" y2="111.3" stroke="#222" stroke-width="0.9"/>
<line x1="369.6" y1="109.3" x2="369.6" y2="111.3" stroke="#222" stroke-width="0.9"/>
<line x1="372.1" y1="109.3" x2="372.1" y2="111.3" stroke="#222" stroke-width="0.9"/>
<line x1="377.2" y1="109.3" x2="377.2" y2="111.3" stroke="#222" stroke-width="0.9"/>
<line x1="379.8" y1="109.3" x2="379.8" y2="111.3" stroke="#222" stroke-width="0.9"/>
<line x1="382.3" y1="109.3" x2="382.3" y2="111.3" stroke="#222" stroke-width="0.9"/>
<line x1="384.9" y1="109.3" x2="384.9" y2="111.3" stroke="#222" stroke-width="0.9"/>
<line x1="387.4" y1="109.3" x2="387.4" y2="111.3" stroke="#222" stroke-width="0.9"/>
<line x1="392.5" y1="109.3" x2="392.5" y2="111.3" stroke="#222" stroke-width="0.9"/>
<line x1="395.1" y1="109.3" x2="395.1" y2="111.3" stroke="#222" stroke-width="0.9"/>
<line x1="399.8" y1="109.3" x2="399.8" y2="111.3" stroke="#222" stroke-width="0.9"/>
<line x1="405.6" y1="109.3" x2="405.6" y2="111.3" stroke="#222" stroke-width="0.9"/>
<line x1="409.7" y1="109.3" x2="409.7" y2="111.3" stroke="#222" stroke-width="0.9"/>
<line x1="412.9" y1="109.3" x2="412.9" y2="111.3" stroke="#222" stroke-width="0.9"/>
<line x1="415.4" y1="109.3" x2="415.4" y2="111.3" stroke="#222" stroke-width="0.9"/>
<line x1="417.6" y1="109.3" x2="417.6" y2="111.3" stroke="#222" stroke-width="0.9"/>
<line x1="419.5" y1="109.3" x2="419.5" y2="111.3" stroke="#222" stroke-width="0.9"/>
<line x1="421.2" y1="109.3" x2="421.2" y2="111.3" stroke="#222" stroke-width="0.9"/>
<line x1="432.2" y1="109.3" x2="432.2" y2="111.3" stroke="#222" stroke-width="0.9"/>
<line x1="437.8" y1="109.3" x2="437.8" y2="111.3" stroke="#222" stroke-width="0.9"/>
<line x1="441.8" y1="109.3" x2="441.8" y2="111.3" stroke="#222" stroke-width="0.9"/>
<line x1="444.9" y1="109.3" x2="444.9" y2="111.3" stroke="#222" stroke-width="0.9"/>
<line x1="447.4" y1="109.3" x2="447.4" y2="111.3" stroke="#222" stroke-width="0.9"/>
<line x1="449.5" y1="109.3" x2="449.5" y2="111.3" stroke="#222" stroke-width="0.9"/>
<line x1="451.3" y1="109.3" x2="451.3" y2="111.3" stroke="#222" stroke-width="0.9"/>
<line x1="452.9" y1="109.3" x2="452.9" y2="111.3" stroke="#222" stroke-width="0.9"/>
<line x1="463.6" y1="109.3" x2="463.6" y2="111.3" stroke="#222" stroke-width="0.9"/>
<line x1="468.9" y1="109.3" x2="468.9" y2="111.3" stroke="#222" stroke-width="0.9"/>
<line x1="472.7" y1="109.3" x2="472.7" y2="111.3" stroke="#222" stroke-width="0.9"/>
<line x1="475.6" y1="109.3" x2="475.6" y2="111.3" stroke="#222" stroke-width="0.9"/>
<line x1="478.1" y1="109.3" x2="478.1" y2="111.3" stroke="#222" stroke-width="0.9"/>
<line x1="480.1" y1="109.3" x2="480.1" y2="111.3" stroke="#222" stroke-width="0.9"/>
<line x1="481.9" y1="109.3" x2="481.9" y2="111.3" stroke="#222" stroke-width="0.9"/>
<line x1="483.4" y1="109.3" x2="483.4" y2="111.3" stroke="#222" stroke-width="0.9"/>
<line x1="494.0" y1="109.3" x2="494.0" y2="111.3" stroke="#222" stroke-width="0.9"/>
<text x="372.63" y="232.41" font-size="3.95" font-weight="normal" textLength="3.14" lengthAdjust="spacingAndGlyphs" fill="#444" stroke="#444" stroke-width="0.1">0</text>
<text x="383.05" y="232.41" font-size="3.95" font-weight="normal" textLength="7.36" lengthAdjust="spacingAndGlyphs" fill="#444" stroke="#444" stroke-width="0.1">10</text>
<text x="393.40" y="230.15" font-size="3.87" font-weight="normal" textLength="2.81" lengthAdjust="spacingAndGlyphs" fill="#444" stroke="#444" stroke-width="0.1">2</text>
<text x="415.75" y="232.41" font-size="3.95" font-weight="normal" textLength="7.36" lengthAdjust="spacingAndGlyphs" fill="#444" stroke="#444" stroke-width="0.1">10</text>
<text x="426.17" y="230.11" font-size="3.81" font-weight="normal" textLength="2.70" lengthAdjust="spacingAndGlyphs" fill="#444" stroke="#444" stroke-width="0.1">3</text>
<text x="447.45" y="232.41" font-size="3.95" font-weight="normal" textLength="7.36" lengthAdjust="spacingAndGlyphs" fill="#444" stroke="#444" stroke-width="0.1">10</text>
<text x="457.95" y="230.15" font-size="3.92" font-weight="normal" textLength="2.54" lengthAdjust="spacingAndGlyphs" fill="#444" stroke="#444" stroke-width="0.1">4</text>
<text x="477.85" y="232.41" font-size="3.95" font-weight="normal" textLength="7.36" lengthAdjust="spacingAndGlyphs" fill="#444" stroke="#444" stroke-width="0.1">10</text>
<text x="488.26" y="230.11" font-size="3.87" font-weight="normal" textLength="2.70" lengthAdjust="spacingAndGlyphs" fill="#444" stroke="#444" stroke-width="0.1">5</text>
<line x1="374.2" y1="221.8" x2="374.2" y2="224.8" stroke="#222" stroke-width="0.9"/>
<line x1="390.0" y1="221.8" x2="390.0" y2="224.8" stroke="#222" stroke-width="0.9"/>
<line x1="422.7" y1="221.8" x2="422.7" y2="224.8" stroke="#222" stroke-width="0.9"/>
<line x1="454.4" y1="221.8" x2="454.4" y2="224.8" stroke="#222" stroke-width="0.9"/>
<line x1="484.8" y1="221.8" x2="484.8" y2="224.8" stroke="#222" stroke-width="0.9"/>
<line x1="361.9" y1="221.8" x2="361.9" y2="223.8" stroke="#222" stroke-width="0.9"/>
<line x1="364.4" y1="221.8" x2="364.4" y2="223.8" stroke="#222" stroke-width="0.9"/>
<line x1="367.0" y1="221.8" x2="367.0" y2="223.8" stroke="#222" stroke-width="0.9"/>
<line x1="369.6" y1="221.8" x2="369.6" y2="223.8" stroke="#222" stroke-width="0.9"/>
<line x1="372.1" y1="221.8" x2="372.1" y2="223.8" stroke="#222" stroke-width="0.9"/>
<line x1="377.2" y1="221.8" x2="377.2" y2="223.8" stroke="#222" stroke-width="0.9"/>
<line x1="379.8" y1="221.8" x2="379.8" y2="223.8" stroke="#222" stroke-width="0.9"/>
<line x1="382.3" y1="221.8" x2="382.3" y2="223.8" stroke="#222" stroke-width="0.9"/>
<line x1="384.9" y1="221.8" x2="384.9" y2="223.8" stroke="#222" stroke-width="0.9"/>
<line x1="387.4" y1="221.8" x2="387.4" y2="223.8" stroke="#222" stroke-width="0.9"/>
<line x1="392.5" y1="221.8" x2="392.5" y2="223.8" stroke="#222" stroke-width="0.9"/>
<line x1="395.1" y1="221.8" x2="395.1" y2="223.8" stroke="#222" stroke-width="0.9"/>
<line x1="399.8" y1="221.8" x2="399.8" y2="223.8" stroke="#222" stroke-width="0.9"/>
<line x1="405.6" y1="221.8" x2="405.6" y2="223.8" stroke="#222" stroke-width="0.9"/>
<line x1="409.7" y1="221.8" x2="409.7" y2="223.8" stroke="#222" stroke-width="0.9"/>
<line x1="412.9" y1="221.8" x2="412.9" y2="223.8" stroke="#222" stroke-width="0.9"/>
<line x1="415.4" y1="221.8" x2="415.4" y2="223.8" stroke="#222" stroke-width="0.9"/>
<line x1="417.6" y1="221.8" x2="417.6" y2="223.8" stroke="#222" stroke-width="0.9"/>
<line x1="419.5" y1="221.8" x2="419.5" y2="223.8" stroke="#222" stroke-width="0.9"/>
<line x1="421.2" y1="221.8" x2="421.2" y2="223.8" stroke="#222" stroke-width="0.9"/>
<line x1="432.2" y1="221.8" x2="432.2" y2="223.8" stroke="#222" stroke-width="0.9"/>
<line x1="437.8" y1="221.8" x2="437.8" y2="223.8" stroke="#222" stroke-width="0.9"/>
<line x1="441.8" y1="221.8" x2="441.8" y2="223.8" stroke="#222" stroke-width="0.9"/>
<line x1="444.9" y1="221.8" x2="444.9" y2="223.8" stroke="#222" stroke-width="0.9"/>
<line x1="447.4" y1="221.8" x2="447.4" y2="223.8" stroke="#222" stroke-width="0.9"/>
<line x1="449.5" y1="221.8" x2="449.5" y2="223.8" stroke="#222" stroke-width="0.9"/>
<line x1="451.3" y1="221.8" x2="451.3" y2="223.8" stroke="#222" stroke-width="0.9"/>
<line x1="452.9" y1="221.8" x2="452.9" y2="223.8" stroke="#222" stroke-width="0.9"/>
<line x1="463.6" y1="221.8" x2="463.6" y2="223.8" stroke="#222" stroke-width="0.9"/>
<line x1="468.9" y1="221.8" x2="468.9" y2="223.8" stroke="#222" stroke-width="0.9"/>
<line x1="472.7" y1="221.8" x2="472.7" y2="223.8" stroke="#222" stroke-width="0.9"/>
<line x1="475.6" y1="221.8" x2="475.6" y2="223.8" stroke="#222" stroke-width="0.9"/>
<line x1="478.1" y1="221.8" x2="478.1" y2="223.8" stroke="#222" stroke-width="0.9"/>
<line x1="480.1" y1="221.8" x2="480.1" y2="223.8" stroke="#222" stroke-width="0.9"/>
<line x1="481.9" y1="221.8" x2="481.9" y2="223.8" stroke="#222" stroke-width="0.9"/>
<line x1="483.4" y1="221.8" x2="483.4" y2="223.8" stroke="#222" stroke-width="0.9"/>
<line x1="494.0" y1="221.8" x2="494.0" y2="223.8" stroke="#222" stroke-width="0.9"/>
<text x="0.04" y="288.47" font-size="17.22" font-weight="bold" textLength="11.66" lengthAdjust="spacingAndGlyphs" fill="#000" stroke="#000" stroke-width="0.45">B</text>
<text x="140.16" y="286.57" font-size="14.17" font-weight="bold" textLength="18.41" lengthAdjust="spacingAndGlyphs" fill="#000" stroke="#000" stroke-width="0.45">LV</text>
<text x="388.48" y="286.33" font-size="14.76" font-weight="bold" textLength="20.41" lengthAdjust="spacingAndGlyphs" fill="#000" stroke="#000" stroke-width="0.45">SP</text>
<text transform="translate(11.2 432.2) rotate(-90)" x="-0.23" y="0" font-size="13.5" font-weight="bold" textLength="104.8" lengthAdjust="spacingAndGlyphs" stroke="#000" stroke-width="0.4"># of cells/ tissue</text>
<path d="M55 316.3 V453.4 H261" fill="none" stroke="#000" stroke-width="1.9"/>
<line x1="50.8" y1="453.5" x2="55" y2="453.5" stroke="#000" stroke-width="1.5"/>
<text x="45.29" y="457.16" font-size="9.04" font-weight="bold" textLength="5.03" lengthAdjust="spacingAndGlyphs" fill="#000" stroke="#000" stroke-width="0.3">0</text>
<line x1="50.8" y1="426.2" x2="55" y2="426.2" stroke="#000" stroke-width="1.5"/>
<text x="28.94" y="429.90" font-size="9.04" font-weight="bold" textLength="21.40" lengthAdjust="spacingAndGlyphs" fill="#000" stroke="#000" stroke-width="0.3">1000</text>
<line x1="50.8" y1="399.0" x2="55" y2="399.0" stroke="#000" stroke-width="1.5"/>
<text x="29.22" y="402.64" font-size="9.04" font-weight="bold" textLength="21.12" lengthAdjust="spacingAndGlyphs" fill="#000" stroke="#000" stroke-width="0.3">2000</text>
<line x1="50.8" y1="371.7" x2="55" y2="371.7" stroke="#000" stroke-width="1.5"/>
<text x="29.33" y="375.37" font-size="9.02" font-weight="bold" textLength="21.00" lengthAdjust="spacingAndGlyphs" fill="#000" stroke="#000" stroke-width="0.3">3000</text>
<line x1="50.8" y1="344.5" x2="55" y2="344.5" stroke="#000" stroke-width="1.5"/>
<text x="29.41" y="348.12" font-size="9.04" font-weight="bold" textLength="20.93" lengthAdjust="spacingAndGlyphs" fill="#000" stroke="#000" stroke-width="0.3">4000</text>
<line x1="50.8" y1="317.2" x2="55" y2="317.2" stroke="#000" stroke-width="1.5"/>
<text x="29.26" y="320.86" font-size="9.04" font-weight="bold" textLength="21.08" lengthAdjust="spacingAndGlyphs" fill="#000" stroke="#000" stroke-width="0.3">5000</text>
<line x1="89.3" y1="453.5" x2="89.3" y2="457" stroke="#000" stroke-width="1.6"/>
<line x1="158" y1="453.5" x2="158" y2="457" stroke="#000" stroke-width="1.6"/>
<line x1="226.2" y1="453.5" x2="226.2" y2="457" stroke="#000" stroke-width="1.6"/>
<text x="76.18" y="474.03" font-size="15.04" font-weight="bold" textLength="34.65" lengthAdjust="spacingAndGlyphs" fill="#000" stroke="#000" stroke-width="0.45">RKO</text>
<text x="152.76" y="473.88" font-size="15.06" font-weight="bold" textLength="18.00" lengthAdjust="spacingAndGlyphs" fill="#000" stroke="#000" stroke-width="0.45">Tg</text>
<text x="218.71" y="474.04" font-size="15.00" font-weight="bold" textLength="19.45" lengthAdjust="spacingAndGlyphs" fill="#000" stroke="#000" stroke-width="0.45">Wt</text>
<path d="M88.1 308.5 V301.4 H155.3 V308.5" fill="none" stroke="#000" stroke-width="2"/>
<path d="M119.3 292.6 H125.10000000000001 M120.75 290.09 L123.65 295.11 M120.75 295.11 L123.65 290.09" stroke="#333" stroke-width="1.0" stroke-linecap="round"/>
<circle cx="73.8" cy="415.1" r="2.5" fill="#000"/>
<circle cx="81.5" cy="421.7" r="2.5" fill="#000"/>
<circle cx="89.4" cy="422.1" r="2.5" fill="#000"/>
<circle cx="97.1" cy="416" r="2.5" fill="#000"/>
<circle cx="89.4" cy="436" r="2.5" fill="#000"/>
<line x1="66.10000000000001" y1="422.4" x2="112.7" y2="422.4" stroke="#111" stroke-width="1.3"/>
<path d="M77.7 418.3 H101.10000000000001 M77.7 425.9 H101.10000000000001 M89.4 418.3 V425.9" stroke="#111" stroke-width="1.3" fill="none"/>
<rect x="155.30" y="321.40" width="4.6" height="4.6" fill="#000"/>
<rect x="155.30" y="332.50" width="4.6" height="4.6" fill="#000"/>
<rect x="155.30" y="365.00" width="4.6" height="4.6" fill="#000"/>
<rect x="163.10" y="368.20" width="4.6" height="4.6" fill="#000"/>
<rect x="155.30" y="373.10" width="4.6" height="4.6" fill="#000"/>
<rect x="155.30" y="385.10" width="4.6" height="4.6" fill="#000"/>
<rect x="155.30" y="395.40" width="4.6" height="4.6" fill="#000"/>
<line x1="134.60000000000002" y1="365.4" x2="181.0" y2="365.4" stroke="#111" stroke-width="1.3"/>
<path d="M146.10000000000002 355.1 H169.5 M146.10000000000002 375.7 H169.5 M157.8 355.1 V375.7" stroke="#111" stroke-width="1.3" fill="none"/>
<path d="M226.40 353.28 L229.00 358.48 L223.80 358.48 Z" fill="#000"/>
<path d="M233.70 370.58 L236.30 375.78 L231.10 375.78 Z" fill="#000"/>
<path d="M226.40 377.28 L229.00 382.48 L223.80 382.48 Z" fill="#000"/>
<path d="M218.40 387.28 L221.00 392.48 L215.80 392.48 Z" fill="#000"/>
<path d="M226.40 389.98 L229.00 395.18 L223.80 395.18 Z" fill="#000"/>
<path d="M226.40 410.68 L229.00 415.88 L223.80 415.88 Z" fill="#000"/>
<line x1="203.0" y1="384.2" x2="249.39999999999998" y2="384.2" stroke="#111" stroke-width="1.3"/>
<path d="M214.29999999999998 376.2 H238.1 M214.29999999999998 392.2 H238.1 M226.2 376.2 V392.2" stroke="#111" stroke-width="1.3" fill="none"/>
<path d="M311 319.2 V453.6 H512.3" fill="none" stroke="#000" stroke-width="1.9"/>
<line x1="307" y1="453.4" x2="311" y2="453.4" stroke="#000" stroke-width="1.5"/>
<text x="301.89" y="457.56" font-size="9.18" font-weight="bold" textLength="5.03" lengthAdjust="spacingAndGlyphs" fill="#000" stroke="#000" stroke-width="0.3">0</text>
<line x1="307" y1="426.7" x2="311" y2="426.7" stroke="#000" stroke-width="1.5"/>
<text x="285.86" y="430.88" font-size="9.18" font-weight="bold" textLength="21.08" lengthAdjust="spacingAndGlyphs" fill="#000" stroke="#000" stroke-width="0.3">5000</text>
<line x1="307" y1="400.0" x2="311" y2="400.0" stroke="#000" stroke-width="1.5"/>
<text x="280.35" y="404.20" font-size="9.18" font-weight="bold" textLength="26.59" lengthAdjust="spacingAndGlyphs" fill="#000" stroke="#000" stroke-width="0.3">10000</text>
<line x1="307" y1="373.4" x2="311" y2="373.4" stroke="#000" stroke-width="1.5"/>
<text x="280.35" y="377.52" font-size="9.18" font-weight="bold" textLength="26.59" lengthAdjust="spacingAndGlyphs" fill="#000" stroke="#000" stroke-width="0.3">15000</text>
<line x1="307" y1="346.7" x2="311" y2="346.7" stroke="#000" stroke-width="1.5"/>
<text x="280.62" y="350.84" font-size="9.18" font-weight="bold" textLength="26.32" lengthAdjust="spacingAndGlyphs" fill="#000" stroke="#000" stroke-width="0.3">20000</text>
<line x1="307" y1="320.0" x2="311" y2="320.0" stroke="#000" stroke-width="1.5"/>
<text x="280.62" y="324.16" font-size="9.18" font-weight="bold" textLength="26.32" lengthAdjust="spacingAndGlyphs" fill="#000" stroke="#000" stroke-width="0.3">25000</text>
<line x1="344.6" y1="453.6" x2="344.6" y2="457" stroke="#000" stroke-width="1.6"/>
<line x1="411.6" y1="453.6" x2="411.6" y2="457" stroke="#000" stroke-width="1.6"/>
<line x1="478.4" y1="453.6" x2="478.4" y2="457" stroke="#000" stroke-width="1.6"/>
<text x="327.19" y="474.13" font-size="15.04" font-weight="bold" textLength="34.54" lengthAdjust="spacingAndGlyphs" fill="#000" stroke="#000" stroke-width="0.45">RKO</text>
<text x="403.56" y="473.98" font-size="15.06" font-weight="bold" textLength="18.11" lengthAdjust="spacingAndGlyphs" fill="#000" stroke="#000" stroke-width="0.45">Tg</text>
<text x="469.81" y="474.14" font-size="15.00" font-weight="bold" textLength="18.54" lengthAdjust="spacingAndGlyphs" fill="#000" stroke="#000" stroke-width="0.45">Wt</text>
<circle cx="344.6" cy="349.4" r="2.5" fill="#000"/>
<circle cx="344.6" cy="395.3" r="2.5" fill="#000"/>
<circle cx="344.6" cy="426.2" r="2.5" fill="#000"/>
<circle cx="344.6" cy="435" r="2.5" fill="#000"/>
<circle cx="351.9" cy="432.9" r="2.5" fill="#000"/>
<line x1="322.1" y1="407.8" x2="367.1" y2="407.8" stroke="#111" stroke-width="1.3"/>
<path d="M333.1 391.6 H356.1 M333.1 424.1 H356.1 M344.6 391.6 V424.1" stroke="#111" stroke-width="1.3" fill="none"/>
<rect x="409.10" y="365.70" width="4.6" height="4.6" fill="#000"/>
<rect x="401.40" y="398.60" width="4.6" height="4.6" fill="#000"/>
<rect x="409.10" y="404.80" width="4.6" height="4.6" fill="#000"/>
<rect x="409.10" y="412.00" width="4.6" height="4.6" fill="#000"/>
<rect x="409.10" y="422.00" width="4.6" height="4.6" fill="#000"/>
<rect x="416.40" y="429.20" width="4.6" height="4.6" fill="#000"/>
<rect x="409.10" y="433.70" width="4.6" height="4.6" fill="#000"/>
<line x1="388.7" y1="412.1" x2="433.90000000000003" y2="412.1" stroke="#111" stroke-width="1.3"/>
<path d="M400.0 403.4 H422.6 M400.0 420.4 H422.6 M411.3 403.4 V420.4" stroke="#111" stroke-width="1.3" fill="none"/>
<path d="M478.60 396.88 L481.20 402.08 L476.00 402.08 Z" fill="#000"/>
<path d="M470.70 404.68 L473.30 409.88 L468.10 409.88 Z" fill="#000"/>
<path d="M478.60 406.98 L481.20 412.18 L476.00 412.18 Z" fill="#000"/>
<path d="M470.70 412.58 L473.30 417.78 L468.10 417.78 Z" fill="#000"/>
<path d="M486.10 415.98 L488.70 421.18 L483.50 421.18 Z" fill="#000"/>
<path d="M478.60 419.48 L481.20 424.68 L476.00 424.68 Z" fill="#000"/>
<line x1="456.2" y1="412.0" x2="500.8" y2="412.0" stroke="#111" stroke-width="1.3"/>
<path d="M467.0 408.8 H490.0 M467.0 415.3 H490.0 M478.5 408.8 V415.3" stroke="#111" stroke-width="1.3" fill="none"/>
</svg>
</body></html>
